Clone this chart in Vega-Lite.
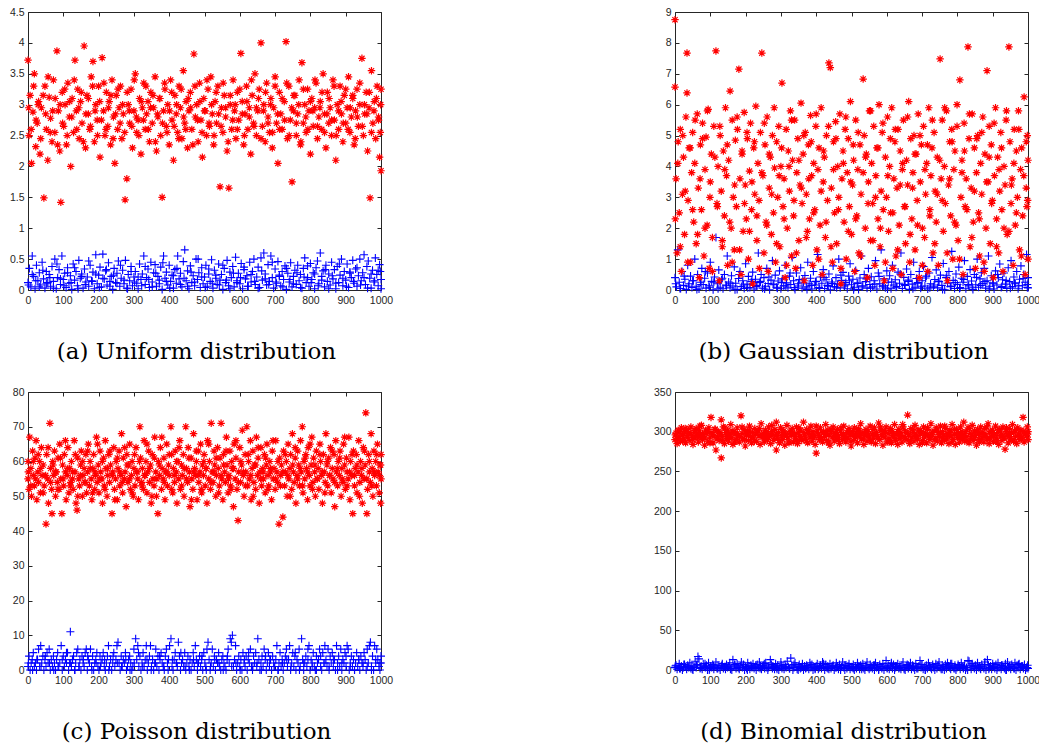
{
"$schema":"https://vega.github.io/schema/vega-lite/v6.json",
"padding":{"left":9,"top":7,"right":0,"bottom":0},
"background":"#ffffff",
"config":{
 "view":{"stroke":null},
 "axis":{"grid":false,"domainColor":"#262626","tickColor":"#262626","labelColor":"#262626","labelFont":"Liberation Sans","labelFontSize":10.5,"tickSize":-4,"domainWidth":1,"tickWidth":1,"title":null,"format":"d","labelFlush":false,"labelOverlap":false},
 "axisX":{"labelPadding":9},
 "axisY":{"labelPadding":8},
 "title":{"font":"DejaVu Serif","fontSize":23,"fontWeight":"normal","color":"#000000","orient":"bottom","anchor":"middle","dx":-8,"offset":35,"baseline":"top"},
 "point":{"filled":false,"opacity":1}
},
"datasets":{
"ar":[{"x":0,"y":3.72},{"x":3,"y":2.5},{"x":6,"y":3.15},{"x":10,"y":2.05},{"x":14,"y":2.88},{"x":18,"y":3.5},{"x":22,"y":2.32},{"x":26,"y":2.7},{"x":30,"y":3.05},{"x":34,"y":2.2},{"x":38,"y":2.95},{"x":45,"y":1.49},{"x":48,"y":3.3},{"x":52,"y":2.6},{"x":56,"y":2.1},{"x":60,"y":3.12},{"x":64,"y":2.78},{"x":68,"y":2.4},{"x":72,"y":3.4},{"x":76,"y":2.55},{"x":82,"y":3.87},{"x":86,"y":2.9},{"x":90,"y":2.25},{"x":93,"y":1.42},{"x":97,"y":3.2},{"x":101,"y":2.65},{"x":105,"y":3.0},{"x":109,"y":2.35},{"x":113,"y":3.35},{"x":117,"y":2.8},{"x":121,"y":2.0},{"x":125,"y":3.1},{"x":129,"y":2.55},{"x":133,"y":3.72},{"x":137,"y":2.9},{"x":141,"y":3.25},{"x":145,"y":2.45},{"x":149,"y":3.05},{"x":153,"y":2.7},{"x":159,"y":3.95},{"x":163,"y":2.3},{"x":167,"y":3.15},{"x":171,"y":2.85},{"x":175,"y":2.6},{"x":179,"y":3.45},{"x":184,"y":3.7},{"x":188,"y":2.4},{"x":192,"y":3.0},{"x":196,"y":2.75},{"x":200,"y":3.3},{"x":204,"y":2.15},{"x":210,"y":3.76},{"x":214,"y":2.9},{"x":218,"y":2.5},{"x":222,"y":3.2},{"x":226,"y":2.65},{"x":230,"y":3.05},{"x":234,"y":2.35},{"x":238,"y":3.4},{"x":242,"y":2.8},{"x":246,"y":2.05},{"x":250,"y":3.15},{"x":254,"y":2.6},{"x":258,"y":2.95},{"x":262,"y":3.3},{"x":266,"y":2.45},{"x":270,"y":2.85},{"x":275,"y":1.46},{"x":280,"y":1.8},{"x":284,"y":3.0},{"x":288,"y":2.7},{"x":292,"y":3.25},{"x":296,"y":2.3},{"x":300,"y":2.9},{"x":304,"y":3.5},{"x":308,"y":2.55},{"x":312,"y":2.75},{"x":316,"y":3.1},{"x":320,"y":2.2},{"x":324,"y":2.95},{"x":328,"y":3.35},{"x":332,"y":2.6},{"x":336,"y":2.85},{"x":340,"y":3.05},{"x":344,"y":2.4},{"x":348,"y":3.2},{"x":352,"y":2.7},{"x":356,"y":2.95},{"x":360,"y":3.45},{"x":364,"y":2.25},{"x":368,"y":2.8},{"x":372,"y":3.1},{"x":376,"y":2.5},{"x":380,"y":1.5},{"x":384,"y":2.9},{"x":388,"y":3.25},{"x":392,"y":2.65},{"x":396,"y":3.0},{"x":400,"y":2.35},{"x":404,"y":3.4},{"x":408,"y":2.75},{"x":412,"y":2.1},{"x":416,"y":3.15},{"x":420,"y":2.85},{"x":424,"y":2.55},{"x":428,"y":3.3},{"x":432,"y":2.95},{"x":436,"y":2.45},{"x":440,"y":3.55},{"x":444,"y":2.7},{"x":448,"y":3.05},{"x":452,"y":2.3},{"x":456,"y":2.9},{"x":460,"y":3.2},{"x":464,"y":2.6},{"x":470,"y":3.82},{"x":474,"y":2.8},{"x":478,"y":3.0},{"x":482,"y":2.4},{"x":486,"y":3.35},{"x":490,"y":2.75},{"x":494,"y":2.15},{"x":498,"y":3.1},{"x":502,"y":2.9},{"x":506,"y":2.5},{"x":510,"y":3.25},{"x":514,"y":2.65},{"x":518,"y":3.45},{"x":522,"y":2.85},{"x":526,"y":2.35},{"x":530,"y":3.05},{"x":534,"y":2.7},{"x":538,"y":3.3},{"x":544,"y":1.67},{"x":548,"y":2.95},{"x":552,"y":2.55},{"x":556,"y":3.15},{"x":560,"y":2.8},{"x":564,"y":2.25},{"x":569,"y":1.65},{"x":573,"y":3.0},{"x":577,"y":2.6},{"x":581,"y":3.4},{"x":585,"y":2.9},{"x":589,"y":2.45},{"x":593,"y":3.2},{"x":597,"y":2.75},{"x":603,"y":3.83},{"x":607,"y":3.05},{"x":611,"y":2.35},{"x":615,"y":2.85},{"x":619,"y":3.3},{"x":623,"y":2.6},{"x":627,"y":2.95},{"x":631,"y":2.2},{"x":635,"y":3.15},{"x":639,"y":2.7},{"x":643,"y":3.5},{"x":647,"y":2.5},{"x":651,"y":2.9},{"x":655,"y":3.25},{"x":660,"y":4.0},{"x":664,"y":2.65},{"x":668,"y":3.0},{"x":672,"y":2.4},{"x":676,"y":3.35},{"x":680,"y":2.8},{"x":684,"y":2.55},{"x":688,"y":3.1},{"x":692,"y":2.3},{"x":696,"y":2.95},{"x":700,"y":3.45},{"x":704,"y":2.7},{"x":708,"y":2.05},{"x":712,"y":3.2},{"x":716,"y":2.85},{"x":720,"y":2.6},{"x":726,"y":3.05},{"x":731,"y":4.02},{"x":735,"y":2.45},{"x":739,"y":3.3},{"x":743,"y":2.75},{"x":748,"y":1.75},{"x":752,"y":2.9},{"x":756,"y":3.15},{"x":760,"y":2.5},{"x":764,"y":2.85},{"x":768,"y":3.4},{"x":772,"y":2.35},{"x":776,"y":3.68},{"x":780,"y":2.7},{"x":784,"y":3.0},{"x":788,"y":2.55},{"x":792,"y":3.25},{"x":796,"y":2.9},{"x":800,"y":2.2},{"x":804,"y":3.1},{"x":808,"y":2.65},{"x":812,"y":2.95},{"x":816,"y":3.35},{"x":820,"y":2.45},{"x":824,"y":2.8},{"x":828,"y":3.05},{"x":832,"y":2.6},{"x":836,"y":3.5},{"x":840,"y":2.85},{"x":844,"y":2.3},{"x":848,"y":3.2},{"x":852,"y":2.7},{"x":856,"y":2.95},{"x":860,"y":2.5},{"x":864,"y":3.4},{"x":868,"y":2.75},{"x":872,"y":2.1},{"x":876,"y":3.0},{"x":880,"y":2.6},{"x":884,"y":3.3},{"x":888,"y":2.85},{"x":892,"y":2.4},{"x":896,"y":3.15},{"x":900,"y":2.7},{"x":904,"y":2.95},{"x":908,"y":3.45},{"x":912,"y":2.55},{"x":916,"y":2.8},{"x":920,"y":3.1},{"x":924,"y":2.35},{"x":928,"y":2.9},{"x":932,"y":3.25},{"x":936,"y":2.65},{"x":940,"y":3.0},{"x":946,"y":3.75},{"x":950,"y":2.5},{"x":954,"y":2.85},{"x":958,"y":3.2},{"x":962,"y":2.25},{"x":966,"y":2.95},{"x":969,"y":1.49},{"x":973,"y":3.55},{"x":977,"y":2.7},{"x":981,"y":3.05},{"x":985,"y":2.45},{"x":989,"y":3.3},{"x":993,"y":2.8},{"x":996,"y":2.15},{"x":1000,"y":1.93},{"x":1000,"y":3.25},{"x":998,"y":2.55},
{"x":2,"y":2.95},{"x":9,"y":2.6},{"x":16,"y":3.3},{"x":23,"y":2.75},{"x":29,"y":3.0},{"x":36,"y":2.45},{"x":43,"y":3.15},{"x":50,"y":2.85},{"x":57,"y":3.45},{"x":63,"y":2.55},{"x":70,"y":2.9},{"x":77,"y":3.1},{"x":84,"y":2.35},{"x":91,"y":3.0},{"x":98,"y":2.7},{"x":104,"y":3.25},{"x":111,"y":2.5},{"x":118,"y":3.05},{"x":124,"y":2.8},{"x":131,"y":3.4},{"x":138,"y":2.6},{"x":144,"y":2.95},{"x":151,"y":3.2},{"x":157,"y":2.4},{"x":164,"y":2.85},{"x":171,"y":3.1},{"x":177,"y":2.65},{"x":183,"y":3.3},{"x":190,"y":2.9},{"x":197,"y":2.5},{"x":203,"y":3.05},{"x":208,"y":2.75},{"x":215,"y":3.35},{"x":221,"y":2.6},{"x":228,"y":2.95},{"x":235,"y":3.15},{"x":241,"y":2.45},{"x":248,"y":2.85},{"x":255,"y":3.25},{"x":261,"y":2.7},{"x":268,"y":3.0},{"x":274,"y":2.55},{"x":281,"y":3.2},{"x":287,"y":2.9},{"x":294,"y":2.65},{"x":301,"y":3.4},{"x":307,"y":2.8},{"x":314,"y":2.5},{"x":321,"y":3.05},{"x":327,"y":2.75},{"x":334,"y":3.3},{"x":341,"y":2.6},{"x":347,"y":2.95},{"x":354,"y":3.15},{"x":361,"y":2.4},{"x":367,"y":2.85},{"x":374,"y":3.1},{"x":381,"y":2.7},{"x":387,"y":3.35},{"x":394,"y":2.55},{"x":401,"y":2.9},{"x":407,"y":3.2},{"x":414,"y":2.65},{"x":421,"y":3.0},{"x":427,"y":2.45},{"x":434,"y":3.25},{"x":441,"y":2.8},{"x":447,"y":2.6},{"x":454,"y":3.1},{"x":461,"y":2.95},{"x":467,"y":2.35},{"x":473,"y":3.3},{"x":480,"y":2.75},{"x":487,"y":3.05},{"x":493,"y":2.55},{"x":500,"y":2.9},{"x":507,"y":3.4},{"x":513,"y":2.7},{"x":520,"y":3.0},{"x":527,"y":2.5},{"x":533,"y":3.2},{"x":540,"y":2.85},{"x":547,"y":2.65},{"x":553,"y":3.35},{"x":560,"y":2.95},{"x":567,"y":2.4},{"x":573,"y":3.15},{"x":580,"y":2.75},{"x":587,"y":3.0},{"x":593,"y":2.6},{"x":600,"y":3.25},{"x":607,"y":2.85},{"x":613,"y":2.5},{"x":620,"y":3.05},{"x":627,"y":2.8},{"x":633,"y":3.4},{"x":640,"y":2.65},{"x":647,"y":2.95},{"x":653,"y":3.1},{"x":660,"y":2.45},{"x":667,"y":2.9},{"x":673,"y":3.2},{"x":680,"y":2.7},{"x":687,"y":3.0},{"x":693,"y":2.55},{"x":700,"y":3.3},{"x":707,"y":2.85},{"x":713,"y":2.6},{"x":720,"y":3.1},{"x":727,"y":2.75},{"x":733,"y":3.35},{"x":740,"y":2.5},{"x":747,"y":2.95},{"x":753,"y":3.15},{"x":760,"y":2.7},{"x":767,"y":3.0},{"x":773,"y":2.4},{"x":780,"y":3.25},{"x":787,"y":2.8},{"x":793,"y":2.6},{"x":800,"y":3.05},{"x":807,"y":2.9},{"x":813,"y":3.4},{"x":820,"y":2.65},{"x":827,"y":2.95},{"x":833,"y":3.2},{"x":840,"y":2.55},{"x":847,"y":2.85},{"x":853,"y":3.1},{"x":860,"y":2.75},{"x":867,"y":3.3},{"x":873,"y":2.5},{"x":880,"y":2.9},{"x":887,"y":3.05},{"x":893,"y":2.7},{"x":900,"y":3.25},{"x":907,"y":2.6},{"x":913,"y":2.95},{"x":920,"y":3.15},{"x":927,"y":2.45},{"x":933,"y":2.8},{"x":940,"y":3.35},{"x":947,"y":2.65},{"x":953,"y":3.0},{"x":960,"y":2.85},{"x":967,"y":3.2},{"x":973,"y":2.55},{"x":980,"y":2.9},{"x":987,"y":3.1},{"x":993,"y":2.75},{"x":999,"y":3.0}],
"ab":[{"x":0,"y":0.12},{"x":4,"y":0.35},{"x":8,"y":0.05},{"x":12,"y":0.55},{"x":16,"y":0.22},{"x":20,"y":0.02},{"x":24,"y":0.4},{"x":28,"y":0.15},{"x":32,"y":0.28},{"x":36,"y":0.08},{"x":40,"y":0.45},{"x":44,"y":0.18},{"x":48,"y":0.03},{"x":52,"y":0.3},{"x":56,"y":0.12},{"x":60,"y":0.25},{"x":64,"y":0.06},{"x":68,"y":0.38},{"x":72,"y":0.14},{"x":76,"y":0.5},{"x":80,"y":0.02},{"x":84,"y":0.2},{"x":88,"y":0.33},{"x":92,"y":0.09},{"x":96,"y":0.55},{"x":100,"y":0.17},{"x":104,"y":0.27},{"x":108,"y":0.04},{"x":112,"y":0.36},{"x":116,"y":0.11},{"x":120,"y":0.23},{"x":124,"y":0.01},{"x":128,"y":0.42},{"x":132,"y":0.16},{"x":136,"y":0.3},{"x":140,"y":0.07},{"x":144,"y":0.48},{"x":148,"y":0.19},{"x":152,"y":0.26},{"x":156,"y":0.03},{"x":160,"y":0.34},{"x":164,"y":0.13},{"x":168,"y":0.21},{"x":172,"y":0.06},{"x":176,"y":0.4},{"x":180,"y":0.15},{"x":184,"y":0.29},{"x":188,"y":0.02},{"x":192,"y":0.57},{"x":196,"y":0.1},{"x":200,"y":0.24},{"x":204,"y":0.37},{"x":208,"y":0.05},{"x":212,"y":0.58},{"x":216,"y":0.18},{"x":220,"y":0.31},{"x":224,"y":0.08},{"x":228,"y":0.44},{"x":232,"y":0.14},{"x":236,"y":0.22},{"x":240,"y":0.01},{"x":244,"y":0.35},{"x":248,"y":0.12},{"x":252,"y":0.27},{"x":256,"y":0.47},{"x":260,"y":0.06},{"x":264,"y":0.19},{"x":268,"y":0.32},{"x":272,"y":0.1},{"x":276,"y":0.48},{"x":280,"y":0.03},{"x":284,"y":0.25},{"x":288,"y":0.15},{"x":292,"y":0.38},{"x":296,"y":0.07},{"x":300,"y":0.21},{"x":304,"y":0.3},{"x":308,"y":0.11},{"x":312,"y":0.02},{"x":316,"y":0.42},{"x":320,"y":0.17},{"x":324,"y":0.26},{"x":328,"y":0.55},{"x":332,"y":0.09},{"x":336,"y":0.2},{"x":340,"y":0.34},{"x":344,"y":0.04},{"x":348,"y":0.45},{"x":352,"y":0.13},{"x":356,"y":0.28},{"x":360,"y":0.41},{"x":364,"y":0.06},{"x":368,"y":0.22},{"x":372,"y":0.16},{"x":376,"y":0.37},{"x":380,"y":0.01},{"x":384,"y":0.55},{"x":388,"y":0.19},{"x":392,"y":0.29},{"x":396,"y":0.08},{"x":400,"y":0.4},{"x":404,"y":0.14},{"x":408,"y":0.24},{"x":412,"y":0.03},{"x":416,"y":0.33},{"x":420,"y":0.11},{"x":424,"y":0.55},{"x":428,"y":0.18},{"x":432,"y":0.27},{"x":436,"y":0.05},{"x":440,"y":0.46},{"x":444,"y":0.65},{"x":448,"y":0.15},{"x":452,"y":0.31},{"x":456,"y":0.02},{"x":460,"y":0.39},{"x":464,"y":0.12},{"x":468,"y":0.23},{"x":472,"y":0.07},{"x":476,"y":0.5},{"x":480,"y":0.17},{"x":484,"y":0.28},{"x":488,"y":0.04},{"x":492,"y":0.36},{"x":496,"y":0.1},{"x":500,"y":0.21},{"x":504,"y":0.4},{"x":508,"y":0.06},{"x":512,"y":0.26},{"x":516,"y":0.14},{"x":520,"y":0.49},{"x":524,"y":0.03},{"x":528,"y":0.32},{"x":532,"y":0.19},{"x":536,"y":0.09},{"x":540,"y":0.42},{"x":544,"y":0.16},{"x":548,"y":0.25},{"x":552,"y":0.01},{"x":556,"y":0.35},{"x":560,"y":0.12},{"x":564,"y":0.48},{"x":568,"y":0.07},{"x":572,"y":0.29},{"x":576,"y":0.2},{"x":580,"y":0.38},{"x":584,"y":0.05},{"x":588,"y":0.53},{"x":592,"y":0.15},{"x":596,"y":0.27},{"x":600,"y":0.1},{"x":604,"y":0.43},{"x":608,"y":0.02},{"x":612,"y":0.33},{"x":616,"y":0.18},{"x":620,"y":0.23},{"x":624,"y":0.06},{"x":628,"y":0.45},{"x":632,"y":0.13},{"x":636,"y":0.3},{"x":640,"y":0.5},{"x":644,"y":0.09},{"x":648,"y":0.21},{"x":652,"y":0.37},{"x":656,"y":0.04},{"x":660,"y":0.52},{"x":664,"y":0.16},{"x":668,"y":0.6},{"x":672,"y":0.26},{"x":676,"y":0.08},{"x":680,"y":0.41},{"x":684,"y":0.14},{"x":688,"y":0.55},{"x":692,"y":0.2},{"x":696,"y":0.03},{"x":700,"y":0.34},{"x":704,"y":0.11},{"x":708,"y":0.46},{"x":712,"y":0.24},{"x":716,"y":0.07},{"x":720,"y":0.3},{"x":724,"y":0.17},{"x":728,"y":0.39},{"x":732,"y":0.01},{"x":736,"y":0.27},{"x":740,"y":0.13},{"x":744,"y":0.44},{"x":748,"y":0.05},{"x":752,"y":0.22},{"x":756,"y":0.32},{"x":760,"y":0.09},{"x":764,"y":0.4},{"x":768,"y":0.15},{"x":772,"y":0.25},{"x":776,"y":0.03},{"x":780,"y":0.35},{"x":784,"y":0.52},{"x":788,"y":0.12},{"x":792,"y":0.2},{"x":796,"y":0.06},{"x":800,"y":0.43},{"x":804,"y":0.17},{"x":808,"y":0.28},{"x":812,"y":0.02},{"x":816,"y":0.36},{"x":820,"y":0.47},{"x":824,"y":0.1},{"x":828,"y":0.6},{"x":832,"y":0.22},{"x":836,"y":0.31},{"x":840,"y":0.05},{"x":844,"y":0.4},{"x":848,"y":0.14},{"x":852,"y":0.26},{"x":856,"y":0.08},{"x":860,"y":0.45},{"x":864,"y":0.18},{"x":868,"y":0.33},{"x":872,"y":0.02},{"x":876,"y":0.38},{"x":880,"y":0.12},{"x":884,"y":0.24},{"x":888,"y":0.5},{"x":892,"y":0.07},{"x":896,"y":0.3},{"x":900,"y":0.16},{"x":904,"y":0.42},{"x":908,"y":0.04},{"x":912,"y":0.27},{"x":916,"y":0.2},{"x":920,"y":0.48},{"x":924,"y":0.11},{"x":928,"y":0.34},{"x":932,"y":0.06},{"x":936,"y":0.23},{"x":940,"y":0.5},{"x":944,"y":0.15},{"x":948,"y":0.28},{"x":952,"y":0.57},{"x":956,"y":0.09},{"x":960,"y":0.38},{"x":964,"y":0.47},{"x":968,"y":0.19},{"x":972,"y":0.03},{"x":976,"y":0.32},{"x":980,"y":0.13},{"x":984,"y":0.52},{"x":988,"y":0.25},{"x":992,"y":0.07},{"x":996,"y":0.41},{"x":1000,"y":0.17},{"x":1000,"y":0.02},{"x":998,"y":0.3},
{"x":2,"y":0.08},{"x":12,"y":0.25},{"x":22,"y":0.15},{"x":32,"y":0.05},{"x":42,"y":0.32},{"x":52,"y":0.1},{"x":62,"y":0.2},{"x":72,"y":0.03},{"x":82,"y":0.42},{"x":92,"y":0.18},{"x":102,"y":0.07},{"x":112,"y":0.28},{"x":122,"y":0.12},{"x":132,"y":0.36},{"x":142,"y":0.02},{"x":152,"y":0.22},{"x":162,"y":0.09},{"x":172,"y":0.47},{"x":182,"y":0.14},{"x":192,"y":0.26},{"x":202,"y":0.04},{"x":212,"y":0.19},{"x":222,"y":0.33},{"x":232,"y":0.06},{"x":242,"y":0.24},{"x":252,"y":0.11},{"x":262,"y":0.4},{"x":272,"y":0.16},{"x":282,"y":0.02},{"x":292,"y":0.3},{"x":302,"y":0.13},{"x":312,"y":0.21},{"x":322,"y":0.07},{"x":332,"y":0.38},{"x":342,"y":0.17},{"x":352,"y":0.05},{"x":362,"y":0.27},{"x":372,"y":0.1},{"x":382,"y":0.44},{"x":392,"y":0.14},{"x":402,"y":0.03},{"x":412,"y":0.23},{"x":422,"y":0.35},{"x":432,"y":0.09},{"x":442,"y":0.19},{"x":452,"y":0.06},{"x":462,"y":0.29},{"x":472,"y":0.13},{"x":482,"y":0.5},{"x":492,"y":0.21},{"x":502,"y":0.04},{"x":512,"y":0.34},{"x":522,"y":0.11},{"x":532,"y":0.24},{"x":542,"y":0.08},{"x":552,"y":0.4},{"x":562,"y":0.16},{"x":572,"y":0.02},{"x":582,"y":0.27},{"x":592,"y":0.12},{"x":602,"y":0.2},{"x":612,"y":0.37},{"x":622,"y":0.06},{"x":632,"y":0.25},{"x":642,"y":0.14},{"x":652,"y":0.03},{"x":662,"y":0.31},{"x":672,"y":0.18},{"x":682,"y":0.09},{"x":692,"y":0.45},{"x":702,"y":0.13},{"x":712,"y":0.22},{"x":722,"y":0.05},{"x":732,"y":0.35},{"x":742,"y":0.17},{"x":752,"y":0.1},{"x":762,"y":0.28},{"x":772,"y":0.04},{"x":782,"y":0.21},{"x":792,"y":0.39},{"x":802,"y":0.12},{"x":812,"y":0.26},{"x":822,"y":0.07},{"x":832,"y":0.16},{"x":842,"y":0.33},{"x":852,"y":0.02},{"x":862,"y":0.23},{"x":872,"y":0.11},{"x":882,"y":0.42},{"x":892,"y":0.19},{"x":902,"y":0.06},{"x":912,"y":0.29},{"x":922,"y":0.14},{"x":932,"y":0.36},{"x":942,"y":0.08},{"x":952,"y":0.2},{"x":962,"y":0.03},{"x":972,"y":0.26},{"x":982,"y":0.15},{"x":992,"y":0.32}],
"br":[{"x":0,"y":8.75},{"x":0,"y":6.57},{"x":3,"y":3.6},{"x":6,"y":1.2},{"x":9,"y":4.8},{"x":12,"y":2.5},{"x":15,"y":5.2},{"x":18,"y":0.6},{"x":21,"y":3.1},{"x":24,"y":4.3},{"x":27,"y":1.8},{"x":31,"y":5.6},{"x":34,"y":7.67},{"x":34,"y":6.38},{"x":37,"y":2.9},{"x":40,"y":4.6},{"x":44,"y":0.9},{"x":47,"y":3.8},{"x":50,"y":5.1},{"x":53,"y":2.2},{"x":56,"y":4.1},{"x":60,"y":1.5},{"x":63,"y":5.7},{"x":66,"y":3.3},{"x":69,"y":0.4},{"x":72,"y":4.7},{"x":75,"y":2.6},{"x":78,"y":5.4},{"x":82,"y":1.1},{"x":85,"y":3.9},{"x":88,"y":4.95},{"x":91,"y":2.1},{"x":94,"y":5.85},{"x":97,"y":0.7},{"x":100,"y":3.5},{"x":103,"y":4.4},{"x":106,"y":1.7},{"x":110,"y":5.3},{"x":116,"y":7.74},{"x":119,"y":2.8},{"x":122,"y":4.0},{"x":125,"y":0.3},{"x":128,"y":5.0},{"x":131,"y":3.2},{"x":134,"y":1.4},{"x":137,"y":4.5},{"x":140,"y":2.4},{"x":143,"y":5.9},{"x":146,"y":3.7},{"x":149,"y":0.8},{"x":152,"y":4.2},{"x":156,"y":6.44},{"x":159,"y":2.0},{"x":162,"y":5.5},{"x":165,"y":3.0},{"x":168,"y":1.3},{"x":171,"y":4.85},{"x":174,"y":2.7},{"x":177,"y":5.2},{"x":181,"y":7.15},{"x":184,"y":3.6},{"x":187,"y":0.5},{"x":190,"y":4.4},{"x":193,"y":1.9},{"x":196,"y":5.75},{"x":199,"y":3.4},{"x":202,"y":2.3},{"x":205,"y":4.9},{"x":208,"y":1.0},{"x":211,"y":3.85},{"x":214,"y":5.4},{"x":217,"y":2.6},{"x":220,"y":0.2},{"x":223,"y":4.6},{"x":226,"y":3.1},{"x":229,"y":5.95},{"x":232,"y":1.6},{"x":235,"y":4.1},{"x":238,"y":2.9},{"x":242,"y":5.1},{"x":246,"y":7.67},{"x":249,"y":3.7},{"x":252,"y":1.2},{"x":255,"y":4.7},{"x":258,"y":2.2},{"x":261,"y":5.6},{"x":264,"y":0.6},{"x":267,"y":3.3},{"x":270,"y":4.3},{"x":273,"y":1.8},{"x":276,"y":5.0},{"x":279,"y":2.5},{"x":282,"y":3.95},{"x":285,"y":0.9},{"x":288,"y":4.8},{"x":291,"y":3.0},{"x":294,"y":5.3},{"x":297,"y":1.4},{"x":300,"y":4.0},{"x":303,"y":6.7},{"x":306,"y":2.7},{"x":309,"y":3.6},{"x":312,"y":0.4},{"x":315,"y":5.2},{"x":318,"y":2.0},{"x":321,"y":4.5},{"x":324,"y":3.2},{"x":327,"y":5.8},{"x":330,"y":1.1},{"x":333,"y":4.2},{"x":336,"y":2.4},{"x":339,"y":5.5},{"x":342,"y":0.7},{"x":345,"y":3.8},{"x":348,"y":4.9},{"x":351,"y":1.6},{"x":354,"y":3.4},{"x":357,"y":6.05},{"x":360,"y":2.8},{"x":363,"y":4.4},{"x":366,"y":0.3},{"x":369,"y":5.1},{"x":372,"y":3.1},{"x":375,"y":1.9},{"x":378,"y":4.7},{"x":381,"y":2.3},{"x":384,"y":5.65},{"x":387,"y":3.7},{"x":390,"y":0.8},{"x":393,"y":4.1},{"x":396,"y":2.6},{"x":399,"y":5.3},{"x":402,"y":1.3},{"x":405,"y":3.9},{"x":408,"y":4.6},{"x":411,"y":2.1},{"x":414,"y":5.9},{"x":417,"y":0.5},{"x":420,"y":3.5},{"x":423,"y":4.3},{"x":426,"y":1.7},{"x":429,"y":5.0},{"x":432,"y":2.9},{"x":436,"y":7.35},{"x":440,"y":7.2},{"x":443,"y":3.3},{"x":446,"y":0.9},{"x":449,"y":4.8},{"x":452,"y":2.5},{"x":455,"y":5.45},{"x":458,"y":1.5},{"x":461,"y":4.0},{"x":464,"y":3.0},{"x":467,"y":5.7},{"x":470,"y":0.2},{"x":473,"y":3.6},{"x":476,"y":4.5},{"x":479,"y":2.2},{"x":482,"y":5.2},{"x":485,"y":1.0},{"x":488,"y":3.8},{"x":491,"y":4.9},{"x":494,"y":2.7},{"x":497,"y":6.1},{"x":500,"y":1.8},{"x":503,"y":3.4},{"x":506,"y":4.2},{"x":509,"y":0.6},{"x":512,"y":5.5},{"x":515,"y":2.4},{"x":518,"y":3.9},{"x":521,"y":1.2},{"x":524,"y":4.7},{"x":527,"y":3.1},{"x":533,"y":6.83},{"x":536,"y":5.0},{"x":539,"y":2.0},{"x":542,"y":4.4},{"x":545,"y":0.4},{"x":548,"y":3.5},{"x":551,"y":5.8},{"x":554,"y":1.6},{"x":557,"y":4.1},{"x":560,"y":2.8},{"x":563,"y":5.3},{"x":566,"y":0.8},{"x":569,"y":3.7},{"x":572,"y":4.6},{"x":575,"y":2.3},{"x":578,"y":6.0},{"x":581,"y":1.4},{"x":584,"y":3.2},{"x":587,"y":5.1},{"x":590,"y":2.6},{"x":593,"y":0.3},{"x":596,"y":4.3},{"x":599,"y":3.0},{"x":602,"y":5.6},{"x":605,"y":1.9},{"x":608,"y":4.0},{"x":611,"y":2.5},{"x":614,"y":5.9},{"x":617,"y":0.7},{"x":620,"y":3.6},{"x":623,"y":4.8},{"x":626,"y":1.1},{"x":629,"y":3.3},{"x":632,"y":5.2},{"x":635,"y":2.1},{"x":638,"y":4.5},{"x":641,"y":0.5},{"x":644,"y":3.9},{"x":647,"y":5.5},{"x":650,"y":2.7},{"x":653,"y":1.5},{"x":656,"y":4.2},{"x":659,"y":3.4},{"x":662,"y":6.1},{"x":665,"y":0.9},{"x":668,"y":4.9},{"x":671,"y":2.3},{"x":674,"y":3.8},{"x":677,"y":5.0},{"x":680,"y":1.3},{"x":683,"y":4.4},{"x":686,"y":2.9},{"x":689,"y":5.7},{"x":692,"y":0.4},{"x":695,"y":3.5},{"x":698,"y":4.7},{"x":701,"y":2.0},{"x":704,"y":5.3},{"x":707,"y":1.7},{"x":710,"y":3.1},{"x":713,"y":4.1},{"x":716,"y":0.6},{"x":719,"y":5.9},{"x":722,"y":2.6},{"x":725,"y":3.7},{"x":728,"y":4.6},{"x":731,"y":1.2},{"x":734,"y":5.1},{"x":737,"y":3.2},{"x":740,"y":2.2},{"x":743,"y":4.3},{"x":746,"y":0.8},{"x":751,"y":7.48},{"x":754,"y":3.6},{"x":757,"y":5.5},{"x":760,"y":1.9},{"x":763,"y":4.0},{"x":766,"y":2.8},{"x":769,"y":5.8},{"x":772,"y":0.3},{"x":775,"y":3.4},{"x":778,"y":4.8},{"x":781,"y":2.4},{"x":784,"y":5.2},{"x":787,"y":1.0},{"x":790,"y":3.9},{"x":793,"y":4.5},{"x":796,"y":2.1},{"x":799,"y":6.0},{"x":802,"y":1.6},{"x":807,"y":6.8},{"x":810,"y":3.0},{"x":813,"y":4.2},{"x":816,"y":0.5},{"x":819,"y":5.4},{"x":822,"y":2.7},{"x":825,"y":3.6},{"x":830,"y":7.87},{"x":833,"y":4.9},{"x":836,"y":1.4},{"x":839,"y":3.3},{"x":842,"y":5.7},{"x":845,"y":2.2},{"x":848,"y":4.6},{"x":851,"y":0.7},{"x":854,"y":3.8},{"x":857,"y":5.0},{"x":860,"y":2.5},{"x":863,"y":1.1},{"x":866,"y":4.1},{"x":869,"y":3.1},{"x":872,"y":5.6},{"x":875,"y":0.9},{"x":878,"y":4.4},{"x":881,"y":2.0},{"x":884,"y":7.1},{"x":887,"y":3.5},{"x":890,"y":5.3},{"x":893,"y":1.5},{"x":896,"y":4.7},{"x":899,"y":2.9},{"x":902,"y":0.4},{"x":905,"y":3.7},{"x":908,"y":5.9},{"x":911,"y":2.3},{"x":914,"y":4.3},{"x":917,"y":1.2},{"x":920,"y":3.2},{"x":923,"y":5.1},{"x":926,"y":2.6},{"x":929,"y":0.6},{"x":932,"y":4.0},{"x":935,"y":3.4},{"x":938,"y":5.5},{"x":941,"y":1.8},{"x":946,"y":7.87},{"x":949,"y":4.8},{"x":952,"y":2.8},{"x":955,"y":3.6},{"x":958,"y":0.8},{"x":961,"y":5.2},{"x":964,"y":2.1},{"x":967,"y":4.5},{"x":970,"y":3.0},{"x":973,"y":5.8},{"x":976,"y":1.3},{"x":979,"y":3.9},{"x":982,"y":4.6},{"x":985,"y":2.4},{"x":989,"y":6.25},{"x":992,"y":0.5},{"x":995,"y":3.3},{"x":998,"y":5.0},{"x":1000,"y":1.0},{"x":1000,"y":4.2},{"x":997,"y":2.7},
{"x":1,"y":2.3},{"x":8,"y":4.1},{"x":15,"y":1.4},{"x":22,"y":5.0},{"x":29,"y":3.2},{"x":36,"y":0.9},{"x":43,"y":4.6},{"x":50,"y":2.6},{"x":57,"y":5.5},{"x":64,"y":1.8},{"x":71,"y":3.6},{"x":78,"y":4.9},{"x":85,"y":2.0},{"x":92,"y":5.8},{"x":99,"y":3.0},{"x":106,"y":0.6},{"x":113,"y":4.3},{"x":120,"y":2.7},{"x":127,"y":5.3},{"x":134,"y":1.6},{"x":141,"y":3.9},{"x":148,"y":4.7},{"x":155,"y":2.2},{"x":162,"y":0.9},{"x":169,"y":3.4},{"x":176,"y":5.6},{"x":183,"y":1.3},{"x":190,"y":4.5},{"x":197,"y":2.8},{"x":204,"y":5.1},{"x":211,"y":1.9},{"x":218,"y":3.5},{"x":225,"y":4.8},{"x":232,"y":2.4},{"x":239,"y":0.7},{"x":246,"y":3.8},{"x":253,"y":5.4},{"x":260,"y":2.1},{"x":267,"y":4.4},{"x":274,"y":3.1},{"x":281,"y":5.9},{"x":288,"y":1.5},{"x":295,"y":3.7},{"x":302,"y":4.6},{"x":309,"y":2.3},{"x":316,"y":0.8},{"x":323,"y":4.0},{"x":330,"y":5.5},{"x":337,"y":2.9},{"x":344,"y":1.2},{"x":351,"y":4.2},{"x":358,"y":3.3},{"x":365,"y":5.0},{"x":372,"y":1.7},{"x":379,"y":3.6},{"x":386,"y":4.8},{"x":393,"y":2.5},{"x":400,"y":5.7},{"x":407,"y":1.0},{"x":414,"y":3.2},{"x":421,"y":4.5},{"x":428,"y":2.2},{"x":435,"y":5.3},{"x":442,"y":1.4},{"x":449,"y":3.9},{"x":456,"y":4.9},{"x":463,"y":2.6},{"x":470,"y":0.7},{"x":477,"y":4.1},{"x":484,"y":5.6},{"x":491,"y":1.9},{"x":498,"y":3.5},{"x":505,"y":4.7},{"x":512,"y":2.3},{"x":519,"y":5.1},{"x":526,"y":1.1},{"x":533,"y":3.8},{"x":540,"y":4.3},{"x":547,"y":2.8},{"x":554,"y":5.8},{"x":561,"y":1.6},{"x":568,"y":3.0},{"x":575,"y":4.6},{"x":582,"y":2.0},{"x":589,"y":5.4},{"x":596,"y":0.9},{"x":603,"y":3.7},{"x":610,"y":4.9},{"x":617,"y":2.5},{"x":624,"y":5.2},{"x":631,"y":1.3},{"x":638,"y":3.4},{"x":645,"y":4.1},{"x":652,"y":2.7},{"x":659,"y":5.6},{"x":666,"y":1.8},{"x":673,"y":3.3},{"x":680,"y":4.4},{"x":687,"y":2.1},{"x":694,"y":5.0},{"x":701,"y":0.8},{"x":708,"y":3.9},{"x":715,"y":4.7},{"x":722,"y":2.4},{"x":729,"y":5.5},{"x":736,"y":1.5},{"x":743,"y":3.1},{"x":750,"y":4.2},{"x":757,"y":2.9},{"x":764,"y":5.9},{"x":771,"y":1.2},{"x":778,"y":3.6},{"x":785,"y":4.8},{"x":792,"y":2.2},{"x":799,"y":5.3},{"x":806,"y":1.0},{"x":813,"y":3.8},{"x":820,"y":4.5},{"x":827,"y":2.6},{"x":834,"y":5.7},{"x":841,"y":1.7},{"x":848,"y":3.2},{"x":855,"y":4.9},{"x":862,"y":2.3},{"x":869,"y":5.1},{"x":876,"y":0.6},{"x":883,"y":3.5},{"x":890,"y":4.3},{"x":897,"y":2.8},{"x":904,"y":5.4},{"x":911,"y":1.4},{"x":918,"y":3.9},{"x":925,"y":4.6},{"x":932,"y":2.0},{"x":939,"y":5.8},{"x":946,"y":1.9},{"x":953,"y":3.4},{"x":960,"y":4.1},{"x":967,"y":2.5},{"x":974,"y":5.2},{"x":981,"y":1.1},{"x":988,"y":3.7},{"x":995,"y":4.8},{"x":999,"y":2.9}],
"bb":[{"x":0,"y":0.4},{"x":4,"y":0.1},{"x":8,"y":1.3},{"x":12,"y":0.25},{"x":16,"y":0.05},{"x":20,"y":0.6},{"x":24,"y":0.15},{"x":28,"y":0.35},{"x":32,"y":0.02},{"x":36,"y":0.8},{"x":40,"y":0.2},{"x":44,"y":0.45},{"x":48,"y":0.08},{"x":52,"y":0.3},{"x":56,"y":1.0},{"x":60,"y":0.12},{"x":64,"y":0.5},{"x":68,"y":0.03},{"x":72,"y":0.25},{"x":76,"y":0.7},{"x":80,"y":0.18},{"x":84,"y":0.38},{"x":88,"y":0.06},{"x":92,"y":0.55},{"x":96,"y":0.14},{"x":100,"y":0.9},{"x":104,"y":0.28},{"x":108,"y":0.01},{"x":112,"y":0.42},{"x":116,"y":1.7},{"x":120,"y":0.2},{"x":124,"y":0.65},{"x":128,"y":0.09},{"x":132,"y":0.33},{"x":136,"y":0.04},{"x":140,"y":0.5},{"x":144,"y":0.16},{"x":148,"y":1.1},{"x":152,"y":0.26},{"x":156,"y":0.07},{"x":160,"y":0.46},{"x":164,"y":0.13},{"x":168,"y":0.75},{"x":172,"y":0.22},{"x":176,"y":0.02},{"x":180,"y":0.37},{"x":184,"y":0.6},{"x":188,"y":0.11},{"x":192,"y":0.3},{"x":196,"y":0.05},{"x":200,"y":0.85},{"x":204,"y":0.19},{"x":208,"y":0.44},{"x":212,"y":0.08},{"x":216,"y":0.27},{"x":220,"y":0.58},{"x":224,"y":0.03},{"x":228,"y":0.35},{"x":232,"y":0.15},{"x":236,"y":1.2},{"x":240,"y":0.24},{"x":244,"y":0.5},{"x":248,"y":0.06},{"x":252,"y":0.4},{"x":256,"y":0.12},{"x":260,"y":0.7},{"x":264,"y":0.21},{"x":268,"y":0.01},{"x":272,"y":0.32},{"x":276,"y":0.95},{"x":280,"y":0.17},{"x":284,"y":0.48},{"x":288,"y":0.09},{"x":292,"y":0.29},{"x":296,"y":0.62},{"x":300,"y":0.04},{"x":304,"y":0.36},{"x":308,"y":0.14},{"x":312,"y":0.8},{"x":316,"y":0.23},{"x":320,"y":0.07},{"x":324,"y":0.45},{"x":328,"y":0.18},{"x":332,"y":1.05},{"x":336,"y":0.3},{"x":340,"y":0.02},{"x":344,"y":0.55},{"x":348,"y":0.13},{"x":352,"y":0.34},{"x":356,"y":0.72},{"x":360,"y":0.06},{"x":364,"y":0.25},{"x":368,"y":0.47},{"x":372,"y":0.1},{"x":376,"y":0.9},{"x":380,"y":0.2},{"x":384,"y":0.38},{"x":388,"y":0.03},{"x":392,"y":0.6},{"x":396,"y":0.16},{"x":400,"y":0.28},{"x":404,"y":1.15},{"x":408,"y":0.08},{"x":412,"y":0.42},{"x":416,"y":0.22},{"x":420,"y":0.66},{"x":424,"y":0.05},{"x":428,"y":0.33},{"x":432,"y":0.15},{"x":436,"y":0.52},{"x":440,"y":0.01},{"x":444,"y":0.26},{"x":448,"y":0.78},{"x":452,"y":0.11},{"x":456,"y":0.4},{"x":460,"y":0.19},{"x":464,"y":1.0},{"x":468,"y":0.07},{"x":472,"y":0.31},{"x":476,"y":0.57},{"x":480,"y":0.13},{"x":484,"y":0.24},{"x":488,"y":0.04},{"x":492,"y":0.45},{"x":496,"y":0.85},{"x":500,"y":0.17},{"x":504,"y":0.35},{"x":508,"y":0.09},{"x":512,"y":0.63},{"x":516,"y":0.21},{"x":520,"y":0.02},{"x":524,"y":0.39},{"x":528,"y":1.1},{"x":532,"y":0.14},{"x":536,"y":0.5},{"x":540,"y":0.27},{"x":544,"y":0.06},{"x":548,"y":0.7},{"x":552,"y":0.18},{"x":556,"y":0.43},{"x":560,"y":0.1},{"x":564,"y":0.3},{"x":568,"y":0.95},{"x":572,"y":0.03},{"x":576,"y":0.55},{"x":580,"y":0.2},{"x":584,"y":1.3},{"x":588,"y":0.12},{"x":592,"y":0.36},{"x":596,"y":0.07},{"x":600,"y":0.62},{"x":604,"y":0.25},{"x":608,"y":0.46},{"x":612,"y":0.04},{"x":616,"y":0.8},{"x":620,"y":0.16},{"x":624,"y":0.33},{"x":628,"y":0.11},{"x":632,"y":0.58},{"x":636,"y":0.22},{"x":640,"y":1.2},{"x":644,"y":0.05},{"x":648,"y":0.41},{"x":652,"y":0.15},{"x":656,"y":0.68},{"x":660,"y":0.28},{"x":664,"y":0.02},{"x":668,"y":0.5},{"x":672,"y":0.19},{"x":676,"y":0.9},{"x":680,"y":0.09},{"x":684,"y":0.37},{"x":688,"y":0.24},{"x":692,"y":0.6},{"x":696,"y":0.06},{"x":700,"y":0.3},{"x":704,"y":0.76},{"x":708,"y":0.13},{"x":712,"y":0.45},{"x":716,"y":0.03},{"x":720,"y":0.55},{"x":724,"y":0.2},{"x":728,"y":1.05},{"x":732,"y":0.1},{"x":736,"y":0.34},{"x":740,"y":0.65},{"x":744,"y":0.07},{"x":748,"y":0.27},{"x":752,"y":0.48},{"x":756,"y":0.15},{"x":760,"y":0.86},{"x":764,"y":0.01},{"x":768,"y":0.4},{"x":772,"y":0.22},{"x":776,"y":0.6},{"x":780,"y":0.11},{"x":784,"y":1.25},{"x":788,"y":0.31},{"x":792,"y":0.05},{"x":796,"y":0.52},{"x":800,"y":0.18},{"x":804,"y":0.74},{"x":808,"y":0.08},{"x":812,"y":0.38},{"x":816,"y":0.25},{"x":820,"y":0.95},{"x":824,"y":0.04},{"x":828,"y":0.44},{"x":832,"y":0.14},{"x":836,"y":0.66},{"x":840,"y":0.29},{"x":844,"y":0.02},{"x":848,"y":0.5},{"x":852,"y":0.17},{"x":856,"y":1.0},{"x":860,"y":0.09},{"x":864,"y":0.36},{"x":868,"y":0.56},{"x":872,"y":0.21},{"x":876,"y":0.7},{"x":880,"y":0.06},{"x":884,"y":0.3},{"x":888,"y":1.1},{"x":892,"y":0.12},{"x":896,"y":0.46},{"x":900,"y":0.23},{"x":904,"y":0.03},{"x":908,"y":0.62},{"x":912,"y":0.16},{"x":916,"y":0.4},{"x":920,"y":0.84},{"x":924,"y":0.08},{"x":928,"y":0.33},{"x":932,"y":0.55},{"x":936,"y":0.19},{"x":940,"y":0.05},{"x":944,"y":0.72},{"x":948,"y":0.27},{"x":952,"y":0.95},{"x":956,"y":0.11},{"x":960,"y":0.42},{"x":964,"y":0.2},{"x":968,"y":0.6},{"x":972,"y":0.04},{"x":976,"y":0.35},{"x":980,"y":0.78},{"x":984,"y":0.14},{"x":988,"y":0.5},{"x":992,"y":0.25},{"x":996,"y":1.15},{"x":1000,"y":0.07},{"x":1000,"y":0.4},{"x":998,"y":0.18},
{"x":2,"y":0.2},{"x":14,"y":0.05},{"x":26,"y":0.45},{"x":38,"y":0.12},{"x":50,"y":0.3},{"x":62,"y":0.02},{"x":74,"y":0.18},{"x":86,"y":0.6},{"x":98,"y":0.09},{"x":110,"y":0.25},{"x":122,"y":0.04},{"x":134,"y":0.38},{"x":146,"y":0.14},{"x":158,"y":0.22},{"x":170,"y":0.01},{"x":182,"y":0.5},{"x":194,"y":0.16},{"x":206,"y":0.07},{"x":218,"y":0.33},{"x":230,"y":0.11},{"x":242,"y":0.28},{"x":254,"y":0.03},{"x":266,"y":0.42},{"x":278,"y":0.19},{"x":290,"y":0.06},{"x":302,"y":0.24},{"x":314,"y":0.13},{"x":326,"y":0.55},{"x":338,"y":0.08},{"x":350,"y":0.2},{"x":362,"y":0.35},{"x":374,"y":0.02},{"x":386,"y":0.15},{"x":398,"y":0.27},{"x":410,"y":0.05},{"x":422,"y":0.4},{"x":434,"y":0.12},{"x":446,"y":0.21},{"x":458,"y":0.07},{"x":470,"y":0.48},{"x":482,"y":0.17},{"x":494,"y":0.3},{"x":506,"y":0.01},{"x":518,"y":0.23},{"x":530,"y":0.1},{"x":542,"y":0.36},{"x":554,"y":0.06},{"x":566,"y":0.19},{"x":578,"y":0.44},{"x":590,"y":0.14},{"x":602,"y":0.03},{"x":614,"y":0.26},{"x":626,"y":0.09},{"x":638,"y":0.52},{"x":650,"y":0.18},{"x":662,"y":0.32},{"x":674,"y":0.04},{"x":686,"y":0.22},{"x":698,"y":0.12},{"x":710,"y":0.39},{"x":722,"y":0.07},{"x":734,"y":0.16},{"x":746,"y":0.29},{"x":758,"y":0.02},{"x":770,"y":0.46},{"x":782,"y":0.13},{"x":794,"y":0.24},{"x":806,"y":0.05},{"x":818,"y":0.34},{"x":830,"y":0.18},{"x":842,"y":0.09},{"x":854,"y":0.41},{"x":866,"y":0.15},{"x":878,"y":0.27},{"x":890,"y":0.03},{"x":902,"y":0.2},{"x":914,"y":0.5},{"x":926,"y":0.11},{"x":938,"y":0.31},{"x":950,"y":0.06},{"x":962,"y":0.23},{"x":974,"y":0.14},{"x":986,"y":0.37},{"x":998,"y":0.08}],
"cr":[{"x":0,"y":55},{"x":0,"y":60},{"x":3,"y":52},{"x":5,"y":67},{"x":8,"y":58},{"x":10,"y":50},{"x":13,"y":63},{"x":15,"y":56},{"x":18,"y":53},{"x":20,"y":61},{"x":23,"y":66},{"x":25,"y":49},{"x":28,"y":57},{"x":30,"y":54},{"x":33,"y":60},{"x":35,"y":51},{"x":38,"y":64},{"x":40,"y":56},{"x":43,"y":59},{"x":46,"y":53},{"x":51,"y":42},{"x":53,"y":62},{"x":56,"y":55},{"x":58,"y":48},{"x":62,"y":71},{"x":64,"y":58},{"x":67,"y":52},{"x":68,"y":45},{"x":70,"y":60},{"x":73,"y":56},{"x":75,"y":63},{"x":78,"y":50},{"x":80,"y":57},{"x":83,"y":54},{"x":85,"y":61},{"x":88,"y":52},{"x":90,"y":65},{"x":93,"y":55},{"x":96,"y":45},{"x":98,"y":59},{"x":101,"y":53},{"x":103,"y":62},{"x":106,"y":57},{"x":108,"y":49},{"x":111,"y":56},{"x":113,"y":64},{"x":116,"y":51},{"x":118,"y":58},{"x":121,"y":54},{"x":123,"y":60},{"x":126,"y":55},{"x":128,"y":52},{"x":131,"y":66},{"x":133,"y":57},{"x":136,"y":48},{"x":139,"y":46},{"x":141,"y":61},{"x":144,"y":55},{"x":146,"y":53},{"x":149,"y":59},{"x":151,"y":63},{"x":154,"y":50},{"x":156,"y":56},{"x":159,"y":58},{"x":161,"y":54},{"x":164,"y":62},{"x":166,"y":51},{"x":169,"y":57},{"x":171,"y":65},{"x":174,"y":53},{"x":176,"y":60},{"x":179,"y":55},{"x":181,"y":49},{"x":184,"y":58},{"x":186,"y":62},{"x":189,"y":52},{"x":191,"y":56},{"x":194,"y":67},{"x":196,"y":54},{"x":199,"y":59},{"x":201,"y":51},{"x":204,"y":63},{"x":206,"y":57},{"x":209,"y":55},{"x":211,"y":48},{"x":214,"y":61},{"x":216,"y":53},{"x":219,"y":66},{"x":221,"y":58},{"x":224,"y":50},{"x":226,"y":56},{"x":229,"y":62},{"x":231,"y":54},{"x":234,"y":59},{"x":238,"y":45},{"x":240,"y":57},{"x":243,"y":64},{"x":245,"y":52},{"x":248,"y":55},{"x":250,"y":60},{"x":253,"y":49},{"x":255,"y":58},{"x":258,"y":63},{"x":260,"y":53},{"x":263,"y":56},{"x":265,"y":68},{"x":268,"y":51},{"x":270,"y":61},{"x":273,"y":55},{"x":275,"y":57},{"x":278,"y":47},{"x":280,"y":62},{"x":283,"y":54},{"x":285,"y":59},{"x":288,"y":65},{"x":290,"y":52},{"x":293,"y":56},{"x":295,"y":60},{"x":298,"y":50},{"x":300,"y":58},{"x":303,"y":53},{"x":306,"y":64},{"x":308,"y":57},{"x":311,"y":55},{"x":313,"y":49},{"x":317,"y":70},{"x":319,"y":61},{"x":322,"y":54},{"x":324,"y":58},{"x":327,"y":52},{"x":329,"y":66},{"x":332,"y":56},{"x":334,"y":60},{"x":337,"y":51},{"x":339,"y":57},{"x":342,"y":63},{"x":344,"y":54},{"x":347,"y":59},{"x":349,"y":48},{"x":352,"y":62},{"x":354,"y":55},{"x":357,"y":53},{"x":359,"y":67},{"x":362,"y":57},{"x":364,"y":50},{"x":368,"y":45},{"x":370,"y":60},{"x":373,"y":56},{"x":375,"y":64},{"x":378,"y":52},{"x":380,"y":58},{"x":383,"y":55},{"x":385,"y":61},{"x":388,"y":49},{"x":390,"y":57},{"x":393,"y":65},{"x":395,"y":53},{"x":398,"y":59},{"x":400,"y":56},{"x":405,"y":70},{"x":407,"y":62},{"x":410,"y":51},{"x":412,"y":58},{"x":415,"y":54},{"x":417,"y":63},{"x":420,"y":57},{"x":422,"y":48},{"x":425,"y":60},{"x":427,"y":55},{"x":430,"y":66},{"x":432,"y":52},{"x":435,"y":59},{"x":437,"y":56},{"x":440,"y":62},{"x":442,"y":50},{"x":447,"y":70},{"x":449,"y":58},{"x":452,"y":54},{"x":454,"y":64},{"x":457,"y":57},{"x":459,"y":47},{"x":462,"y":61},{"x":464,"y":55},{"x":467,"y":52},{"x":469,"y":68},{"x":472,"y":58},{"x":474,"y":56},{"x":477,"y":60},{"x":479,"y":49},{"x":482,"y":63},{"x":484,"y":54},{"x":487,"y":57},{"x":489,"y":65},{"x":492,"y":51},{"x":494,"y":59},{"x":497,"y":56},{"x":499,"y":62},{"x":502,"y":53},{"x":504,"y":58},{"x":507,"y":48},{"x":509,"y":66},{"x":512,"y":55},{"x":514,"y":60},{"x":517,"y":52},{"x":519,"y":71},{"x":522,"y":57},{"x":524,"y":54},{"x":527,"y":63},{"x":529,"y":59},{"x":532,"y":50},{"x":534,"y":56},{"x":537,"y":64},{"x":539,"y":58},{"x":542,"y":53},{"x":544,"y":61},{"x":547,"y":71},{"x":549,"y":55},{"x":552,"y":49},{"x":554,"y":62},{"x":557,"y":57},{"x":559,"y":54},{"x":562,"y":67},{"x":564,"y":59},{"x":567,"y":51},{"x":569,"y":56},{"x":572,"y":63},{"x":574,"y":53},{"x":577,"y":60},{"x":579,"y":58},{"x":582,"y":47},{"x":584,"y":65},{"x":587,"y":55},{"x":589,"y":61},{"x":592,"y":52},{"x":595,"y":43},{"x":597,"y":57},{"x":600,"y":64},{"x":602,"y":54},{"x":605,"y":59},{"x":607,"y":69},{"x":610,"y":56},{"x":612,"y":50},{"x":615,"y":62},{"x":617,"y":57},{"x":620,"y":70},{"x":622,"y":53},{"x":625,"y":60},{"x":627,"y":55},{"x":630,"y":66},{"x":632,"y":49},{"x":635,"y":58},{"x":637,"y":63},{"x":640,"y":54},{"x":642,"y":59},{"x":645,"y":52},{"x":647,"y":67},{"x":650,"y":56},{"x":652,"y":61},{"x":655,"y":48},{"x":657,"y":57},{"x":660,"y":64},{"x":662,"y":53},{"x":665,"y":58},{"x":667,"y":55},{"x":670,"y":62},{"x":672,"y":51},{"x":675,"y":59},{"x":677,"y":65},{"x":680,"y":56},{"x":682,"y":53},{"x":685,"y":60},{"x":687,"y":57},{"x":690,"y":49},{"x":692,"y":63},{"x":695,"y":55},{"x":697,"y":58},{"x":700,"y":52},{"x":702,"y":66},{"x":705,"y":57},{"x":707,"y":54},{"x":711,"y":42},{"x":713,"y":61},{"x":716,"y":56},{"x":718,"y":59},{"x":722,"y":44},{"x":724,"y":63},{"x":727,"y":53},{"x":729,"y":57},{"x":732,"y":60},{"x":734,"y":50},{"x":737,"y":65},{"x":739,"y":55},{"x":742,"y":58},{"x":744,"y":62},{"x":747,"y":52},{"x":749,"y":68},{"x":752,"y":57},{"x":754,"y":54},{"x":757,"y":61},{"x":759,"y":48},{"x":762,"y":56},{"x":764,"y":63},{"x":767,"y":59},{"x":769,"y":53},{"x":772,"y":66},{"x":774,"y":57},{"x":777,"y":70},{"x":779,"y":51},{"x":782,"y":60},{"x":784,"y":55},{"x":787,"y":62},{"x":789,"y":58},{"x":792,"y":49},{"x":794,"y":64},{"x":797,"y":56},{"x":799,"y":53},{"x":802,"y":59},{"x":804,"y":67},{"x":807,"y":54},{"x":809,"y":61},{"x":812,"y":57},{"x":814,"y":50},{"x":817,"y":63},{"x":819,"y":55},{"x":822,"y":58},{"x":824,"y":52},{"x":827,"y":65},{"x":829,"y":60},{"x":832,"y":56},{"x":834,"y":48},{"x":837,"y":62},{"x":839,"y":57},{"x":842,"y":54},{"x":844,"y":68},{"x":847,"y":59},{"x":849,"y":53},{"x":852,"y":61},{"x":854,"y":56},{"x":857,"y":64},{"x":859,"y":51},{"x":862,"y":58},{"x":864,"y":55},{"x":867,"y":62},{"x":869,"y":47},{"x":872,"y":66},{"x":874,"y":57},{"x":877,"y":53},{"x":879,"y":60},{"x":882,"y":56},{"x":884,"y":63},{"x":887,"y":50},{"x":889,"y":58},{"x":892,"y":54},{"x":894,"y":65},{"x":897,"y":59},{"x":899,"y":52},{"x":902,"y":61},{"x":904,"y":57},{"x":907,"y":55},{"x":909,"y":67},{"x":912,"y":49},{"x":914,"y":60},{"x":917,"y":56},{"x":920,"y":45},{"x":922,"y":63},{"x":925,"y":53},{"x":927,"y":58},{"x":930,"y":62},{"x":932,"y":51},{"x":935,"y":57},{"x":937,"y":66},{"x":940,"y":54},{"x":942,"y":60},{"x":945,"y":56},{"x":947,"y":48},{"x":950,"y":64},{"x":952,"y":55},{"x":955,"y":59},{"x":957,"y":74},{"x":960,"y":45},{"x":962,"y":52},{"x":965,"y":62},{"x":967,"y":57},{"x":970,"y":54},{"x":972,"y":68},{"x":975,"y":58},{"x":977,"y":50},{"x":980,"y":63},{"x":982,"y":56},{"x":985,"y":60},{"x":987,"y":53},{"x":990,"y":65},{"x":992,"y":57},{"x":995,"y":51},{"x":997,"y":59},{"x":1000,"y":55},{"x":1000,"y":62},{"x":999,"y":48},
{"x":1,"y":57},{"x":8,"y":53},{"x":15,"y":60},{"x":22,"y":55},{"x":29,"y":62},{"x":36,"y":58},{"x":43,"y":51},{"x":50,"y":56},{"x":57,"y":64},{"x":64,"y":54},{"x":71,"y":59},{"x":78,"y":57},{"x":85,"y":52},{"x":92,"y":61},{"x":99,"y":55},{"x":106,"y":66},{"x":113,"y":58},{"x":120,"y":53},{"x":127,"y":57},{"x":134,"y":62},{"x":141,"y":50},{"x":148,"y":56},{"x":155,"y":60},{"x":162,"y":54},{"x":169,"y":63},{"x":176,"y":58},{"x":183,"y":51},{"x":190,"y":57},{"x":197,"y":65},{"x":204,"y":55},{"x":211,"y":60},{"x":218,"y":52},{"x":225,"y":58},{"x":232,"y":63},{"x":239,"y":56},{"x":246,"y":49},{"x":253,"y":61},{"x":260,"y":57},{"x":267,"y":54},{"x":274,"y":64},{"x":281,"y":59},{"x":288,"y":55},{"x":295,"y":51},{"x":302,"y":62},{"x":309,"y":57},{"x":316,"y":60},{"x":323,"y":53},{"x":330,"y":56},{"x":337,"y":65},{"x":344,"y":58},{"x":351,"y":50},{"x":358,"y":61},{"x":365,"y":55},{"x":372,"y":59},{"x":379,"y":67},{"x":386,"y":54},{"x":393,"y":57},{"x":400,"y":62},{"x":407,"y":52},{"x":414,"y":56},{"x":421,"y":60},{"x":428,"y":64},{"x":435,"y":53},{"x":442,"y":58},{"x":449,"y":55},{"x":456,"y":61},{"x":463,"y":49},{"x":470,"y":57},{"x":477,"y":63},{"x":484,"y":56},{"x":491,"y":52},{"x":498,"y":60},{"x":505,"y":58},{"x":512,"y":65},{"x":519,"y":54},{"x":526,"y":57},{"x":533,"y":61},{"x":540,"y":51},{"x":547,"y":56},{"x":554,"y":59},{"x":561,"y":63},{"x":568,"y":55},{"x":575,"y":52},{"x":582,"y":58},{"x":589,"y":66},{"x":596,"y":54},{"x":603,"y":60},{"x":610,"y":57},{"x":617,"y":53},{"x":624,"y":62},{"x":631,"y":56},{"x":638,"y":50},{"x":645,"y":59},{"x":652,"y":64},{"x":659,"y":55},{"x":666,"y":57},{"x":673,"y":61},{"x":680,"y":52},{"x":687,"y":58},{"x":694,"y":66},{"x":701,"y":55},{"x":708,"y":60},{"x":715,"y":53},{"x":722,"y":57},{"x":729,"y":62},{"x":736,"y":56},{"x":743,"y":50},{"x":750,"y":59},{"x":757,"y":64},{"x":764,"y":55},{"x":771,"y":58},{"x":778,"y":53},{"x":785,"y":61},{"x":792,"y":57},{"x":799,"y":65},{"x":806,"y":52},{"x":813,"y":59},{"x":820,"y":55},{"x":827,"y":62},{"x":834,"y":57},{"x":841,"y":51},{"x":848,"y":60},{"x":855,"y":56},{"x":862,"y":63},{"x":869,"y":54},{"x":876,"y":58},{"x":883,"y":61},{"x":890,"y":55},{"x":897,"y":67},{"x":904,"y":53},{"x":911,"y":57},{"x":918,"y":62},{"x":925,"y":56},{"x":932,"y":59},{"x":939,"y":50},{"x":946,"y":58},{"x":953,"y":63},{"x":960,"y":55},{"x":967,"y":60},{"x":974,"y":53},{"x":981,"y":57},{"x":988,"y":62},{"x":995,"y":56},{"x":999,"y":59}],
"cb":[{"x":0,"y":1},{"x":3,"y":4},{"x":6,"y":0},{"x":9,"y":2},{"x":12,"y":3},{"x":15,"y":5},{"x":18,"y":1},{"x":21,"y":2},{"x":24,"y":0},{"x":27,"y":3},{"x":30,"y":6},{"x":33,"y":1},{"x":36,"y":7},{"x":39,"y":2},{"x":42,"y":4},{"x":45,"y":0},{"x":48,"y":3},{"x":51,"y":1},{"x":54,"y":5},{"x":57,"y":2},{"x":60,"y":6},{"x":63,"y":0},{"x":66,"y":3},{"x":69,"y":1},{"x":72,"y":4},{"x":75,"y":2},{"x":78,"y":0},{"x":81,"y":3},{"x":84,"y":5},{"x":87,"y":1},{"x":90,"y":2},{"x":94,"y":7},{"x":97,"y":0},{"x":100,"y":4},{"x":103,"y":1},{"x":106,"y":3},{"x":109,"y":2},{"x":112,"y":5},{"x":115,"y":0},{"x":118,"y":2},{"x":120,"y":11},{"x":123,"y":1},{"x":126,"y":3},{"x":129,"y":4},{"x":132,"y":0},{"x":135,"y":2},{"x":138,"y":5},{"x":141,"y":6},{"x":144,"y":1},{"x":147,"y":3},{"x":150,"y":0},{"x":153,"y":4},{"x":156,"y":2},{"x":159,"y":1},{"x":162,"y":5},{"x":165,"y":6},{"x":168,"y":0},{"x":171,"y":3},{"x":174,"y":2},{"x":177,"y":6},{"x":180,"y":1},{"x":183,"y":4},{"x":186,"y":0},{"x":189,"y":2},{"x":192,"y":3},{"x":195,"y":5},{"x":198,"y":1},{"x":201,"y":0},{"x":204,"y":4},{"x":207,"y":2},{"x":210,"y":3},{"x":213,"y":5},{"x":216,"y":1},{"x":219,"y":0},{"x":222,"y":2},{"x":225,"y":4},{"x":228,"y":7},{"x":231,"y":1},{"x":234,"y":3},{"x":237,"y":0},{"x":240,"y":2},{"x":243,"y":5},{"x":246,"y":1},{"x":249,"y":3},{"x":252,"y":7},{"x":255,"y":8},{"x":258,"y":2},{"x":261,"y":0},{"x":264,"y":4},{"x":267,"y":1},{"x":270,"y":3},{"x":273,"y":2},{"x":276,"y":5},{"x":279,"y":0},{"x":282,"y":1},{"x":285,"y":3},{"x":288,"y":4},{"x":291,"y":2},{"x":294,"y":0},{"x":297,"y":1},{"x":300,"y":6},{"x":305,"y":9},{"x":308,"y":3},{"x":311,"y":7},{"x":314,"y":1},{"x":317,"y":4},{"x":320,"y":0},{"x":323,"y":2},{"x":326,"y":5},{"x":329,"y":1},{"x":332,"y":3},{"x":335,"y":7},{"x":338,"y":0},{"x":341,"y":2},{"x":344,"y":4},{"x":347,"y":7},{"x":350,"y":1},{"x":353,"y":3},{"x":356,"y":0},{"x":359,"y":2},{"x":362,"y":6},{"x":365,"y":1},{"x":368,"y":4},{"x":371,"y":0},{"x":374,"y":3},{"x":377,"y":5},{"x":380,"y":2},{"x":383,"y":1},{"x":386,"y":0},{"x":389,"y":4},{"x":392,"y":6},{"x":395,"y":2},{"x":398,"y":3},{"x":401,"y":7},{"x":405,"y":9},{"x":408,"y":1},{"x":411,"y":0},{"x":414,"y":3},{"x":417,"y":5},{"x":420,"y":2},{"x":423,"y":1},{"x":426,"y":8},{"x":429,"y":4},{"x":432,"y":0},{"x":435,"y":2},{"x":438,"y":3},{"x":441,"y":1},{"x":444,"y":5},{"x":447,"y":0},{"x":450,"y":2},{"x":453,"y":4},{"x":456,"y":1},{"x":459,"y":3},{"x":462,"y":0},{"x":465,"y":2},{"x":468,"y":5},{"x":471,"y":1},{"x":474,"y":7},{"x":477,"y":3},{"x":480,"y":0},{"x":483,"y":2},{"x":486,"y":4},{"x":489,"y":1},{"x":492,"y":3},{"x":495,"y":0},{"x":498,"y":5},{"x":501,"y":2},{"x":504,"y":1},{"x":507,"y":6},{"x":510,"y":8},{"x":513,"y":3},{"x":516,"y":0},{"x":519,"y":2},{"x":522,"y":6},{"x":525,"y":1},{"x":528,"y":4},{"x":531,"y":0},{"x":534,"y":3},{"x":537,"y":2},{"x":540,"y":5},{"x":543,"y":1},{"x":546,"y":0},{"x":549,"y":3},{"x":552,"y":4},{"x":555,"y":2},{"x":558,"y":1},{"x":561,"y":0},{"x":564,"y":3},{"x":567,"y":6},{"x":570,"y":2},{"x":573,"y":9},{"x":576,"y":8},{"x":579,"y":10},{"x":582,"y":1},{"x":585,"y":3},{"x":588,"y":7},{"x":591,"y":0},{"x":594,"y":2},{"x":597,"y":4},{"x":600,"y":1},{"x":603,"y":3},{"x":606,"y":0},{"x":609,"y":5},{"x":612,"y":2},{"x":615,"y":1},{"x":618,"y":4},{"x":621,"y":0},{"x":624,"y":3},{"x":627,"y":2},{"x":630,"y":6},{"x":633,"y":1},{"x":636,"y":0},{"x":639,"y":4},{"x":642,"y":2},{"x":645,"y":5},{"x":648,"y":1},{"x":651,"y":9},{"x":654,"y":3},{"x":657,"y":0},{"x":660,"y":2},{"x":663,"y":4},{"x":666,"y":1},{"x":669,"y":6},{"x":672,"y":3},{"x":675,"y":0},{"x":678,"y":2},{"x":681,"y":5},{"x":684,"y":1},{"x":687,"y":3},{"x":690,"y":0},{"x":693,"y":4},{"x":696,"y":2},{"x":699,"y":1},{"x":702,"y":3},{"x":705,"y":7},{"x":708,"y":0},{"x":711,"y":2},{"x":714,"y":5},{"x":717,"y":1},{"x":720,"y":3},{"x":723,"y":0},{"x":726,"y":2},{"x":729,"y":4},{"x":732,"y":6},{"x":735,"y":1},{"x":738,"y":3},{"x":741,"y":7},{"x":744,"y":0},{"x":747,"y":2},{"x":750,"y":5},{"x":753,"y":1},{"x":756,"y":4},{"x":759,"y":0},{"x":762,"y":3},{"x":765,"y":2},{"x":768,"y":6},{"x":771,"y":1},{"x":775,"y":9},{"x":778,"y":3},{"x":781,"y":0},{"x":784,"y":2},{"x":787,"y":4},{"x":790,"y":1},{"x":793,"y":6},{"x":796,"y":7},{"x":799,"y":0},{"x":802,"y":3},{"x":805,"y":2},{"x":808,"y":5},{"x":811,"y":1},{"x":814,"y":0},{"x":817,"y":4},{"x":820,"y":2},{"x":823,"y":3},{"x":826,"y":6},{"x":829,"y":1},{"x":832,"y":0},{"x":835,"y":5},{"x":838,"y":2},{"x":841,"y":7},{"x":844,"y":3},{"x":847,"y":1},{"x":850,"y":6},{"x":853,"y":0},{"x":856,"y":4},{"x":859,"y":2},{"x":862,"y":5},{"x":865,"y":1},{"x":868,"y":3},{"x":871,"y":0},{"x":874,"y":7},{"x":877,"y":2},{"x":880,"y":4},{"x":883,"y":1},{"x":886,"y":6},{"x":889,"y":0},{"x":892,"y":3},{"x":895,"y":2},{"x":898,"y":5},{"x":901,"y":1},{"x":904,"y":7},{"x":907,"y":6},{"x":910,"y":0},{"x":913,"y":2},{"x":916,"y":4},{"x":919,"y":1},{"x":922,"y":3},{"x":925,"y":0},{"x":928,"y":2},{"x":931,"y":5},{"x":934,"y":1},{"x":937,"y":3},{"x":940,"y":0},{"x":943,"y":4},{"x":946,"y":2},{"x":949,"y":1},{"x":952,"y":5},{"x":955,"y":3},{"x":958,"y":0},{"x":961,"y":6},{"x":964,"y":2},{"x":967,"y":7},{"x":970,"y":8},{"x":973,"y":1},{"x":976,"y":4},{"x":979,"y":0},{"x":982,"y":7},{"x":985,"y":2},{"x":988,"y":6},{"x":991,"y":3},{"x":994,"y":1},{"x":997,"y":0},{"x":1000,"y":2},{"x":1000,"y":4},
{"x":1,"y":2},{"x":13,"y":0},{"x":25,"y":3},{"x":37,"y":1},{"x":49,"y":4},{"x":61,"y":2},{"x":73,"y":0},{"x":85,"y":1},{"x":97,"y":3},{"x":109,"y":5},{"x":121,"y":2},{"x":133,"y":0},{"x":145,"y":1},{"x":157,"y":3},{"x":169,"y":4},{"x":181,"y":0},{"x":193,"y":2},{"x":205,"y":1},{"x":217,"y":3},{"x":229,"y":0},{"x":241,"y":4},{"x":253,"y":2},{"x":265,"y":1},{"x":277,"y":3},{"x":289,"y":0},{"x":301,"y":2},{"x":313,"y":5},{"x":325,"y":1},{"x":337,"y":3},{"x":349,"y":0},{"x":361,"y":2},{"x":373,"y":4},{"x":385,"y":1},{"x":397,"y":0},{"x":409,"y":3},{"x":421,"y":2},{"x":433,"y":5},{"x":445,"y":1},{"x":457,"y":0},{"x":469,"y":3},{"x":481,"y":2},{"x":493,"y":4},{"x":505,"y":0},{"x":517,"y":1},{"x":529,"y":3},{"x":541,"y":2},{"x":553,"y":0},{"x":565,"y":4},{"x":577,"y":1},{"x":589,"y":2},{"x":601,"y":0},{"x":613,"y":3},{"x":625,"y":5},{"x":637,"y":1},{"x":649,"y":2},{"x":661,"y":0},{"x":673,"y":4},{"x":685,"y":3},{"x":697,"y":1},{"x":709,"y":0},{"x":721,"y":2},{"x":733,"y":3},{"x":745,"y":1},{"x":757,"y":5},{"x":769,"y":0},{"x":781,"y":2},{"x":793,"y":3},{"x":805,"y":1},{"x":817,"y":0},{"x":829,"y":4},{"x":841,"y":2},{"x":853,"y":1},{"x":865,"y":3},{"x":877,"y":0},{"x":889,"y":2},{"x":901,"y":4},{"x":913,"y":1},{"x":925,"y":0},{"x":937,"y":3},{"x":949,"y":2},{"x":961,"y":1},{"x":973,"y":0},{"x":985,"y":3},{"x":997,"y":2}],
"dr":[{"x":0,"y":290},{"x":3,"y":298},{"x":6,"y":285},{"x":9,"y":302},{"x":12,"y":294},{"x":15,"y":288},{"x":18,"y":305},{"x":21,"y":296},{"x":24,"y":291},{"x":27,"y":300},{"x":30,"y":286},{"x":33,"y":303},{"x":36,"y":293},{"x":39,"y":298},{"x":42,"y":289},{"x":45,"y":306},{"x":48,"y":295},{"x":51,"y":284},{"x":54,"y":299},{"x":57,"y":292},{"x":60,"y":304},{"x":63,"y":297},{"x":66,"y":287},{"x":69,"y":301},{"x":72,"y":294},{"x":75,"y":308},{"x":78,"y":290},{"x":81,"y":296},{"x":84,"y":283},{"x":87,"y":302},{"x":90,"y":298},{"x":93,"y":288},{"x":96,"y":305},{"x":99,"y":293},{"x":102,"y":318},{"x":105,"y":299},{"x":108,"y":286},{"x":111,"y":295},{"x":114,"y":303},{"x":116,"y":277},{"x":119,"y":291},{"x":122,"y":300},{"x":125,"y":289},{"x":128,"y":297},{"x":131,"y":315},{"x":131,"y":267},{"x":134,"y":294},{"x":137,"y":306},{"x":140,"y":285},{"x":143,"y":299},{"x":146,"y":292},{"x":149,"y":302},{"x":152,"y":288},{"x":155,"y":296},{"x":158,"y":309},{"x":161,"y":293},{"x":164,"y":284},{"x":167,"y":300},{"x":170,"y":297},{"x":173,"y":290},{"x":176,"y":305},{"x":179,"y":295},{"x":182,"y":287},{"x":187,"y":320},{"x":190,"y":298},{"x":193,"y":291},{"x":196,"y":303},{"x":199,"y":282},{"x":202,"y":296},{"x":205,"y":300},{"x":208,"y":289},{"x":211,"y":307},{"x":214,"y":294},{"x":217,"y":286},{"x":220,"y":299},{"x":223,"y":292},{"x":226,"y":304},{"x":229,"y":297},{"x":232,"y":288},{"x":235,"y":301},{"x":238,"y":295},{"x":241,"y":284},{"x":244,"y":310},{"x":247,"y":293},{"x":250,"y":298},{"x":253,"y":287},{"x":256,"y":302},{"x":259,"y":296},{"x":262,"y":290},{"x":265,"y":306},{"x":268,"y":294},{"x":271,"y":285},{"x":274,"y":300},{"x":277,"y":297},{"x":280,"y":289},{"x":283,"y":303},{"x":287,"y":312},{"x":287,"y":277},{"x":290,"y":292},{"x":293,"y":299},{"x":296,"y":286},{"x":299,"y":305},{"x":302,"y":295},{"x":305,"y":290},{"x":308,"y":301},{"x":311,"y":283},{"x":314,"y":297},{"x":317,"y":308},{"x":320,"y":293},{"x":323,"y":288},{"x":326,"y":300},{"x":329,"y":296},{"x":332,"y":304},{"x":335,"y":287},{"x":338,"y":298},{"x":341,"y":292},{"x":344,"y":306},{"x":347,"y":285},{"x":350,"y":299},{"x":353,"y":294},{"x":356,"y":302},{"x":359,"y":289},{"x":364,"y":312},{"x":367,"y":296},{"x":370,"y":291},{"x":373,"y":303},{"x":376,"y":286},{"x":379,"y":298},{"x":382,"y":293},{"x":385,"y":307},{"x":388,"y":288},{"x":391,"y":300},{"x":394,"y":295},{"x":397,"y":284},{"x":400,"y":273},{"x":403,"y":301},{"x":406,"y":297},{"x":409,"y":290},{"x":412,"y":305},{"x":415,"y":292},{"x":418,"y":287},{"x":421,"y":299},{"x":424,"y":294},{"x":427,"y":309},{"x":430,"y":289},{"x":433,"y":302},{"x":436,"y":296},{"x":439,"y":283},{"x":442,"y":300},{"x":445,"y":293},{"x":448,"y":306},{"x":451,"y":288},{"x":454,"y":298},{"x":457,"y":291},{"x":460,"y":303},{"x":463,"y":295},{"x":466,"y":285},{"x":469,"y":301},{"x":472,"y":297},{"x":475,"y":290},{"x":478,"y":307},{"x":481,"y":294},{"x":484,"y":287},{"x":487,"y":299},{"x":490,"y":292},{"x":493,"y":304},{"x":496,"y":296},{"x":499,"y":282},{"x":502,"y":300},{"x":505,"y":289},{"x":508,"y":305},{"x":511,"y":293},{"x":514,"y":298},{"x":517,"y":286},{"x":520,"y":302},{"x":523,"y":295},{"x":526,"y":310},{"x":529,"y":291},{"x":532,"y":299},{"x":535,"y":284},{"x":538,"y":296},{"x":541,"y":303},{"x":544,"y":288},{"x":547,"y":300},{"x":550,"y":293},{"x":553,"y":307},{"x":556,"y":287},{"x":559,"y":297},{"x":562,"y":292},{"x":565,"y":305},{"x":568,"y":285},{"x":571,"y":299},{"x":574,"y":294},{"x":577,"y":311},{"x":580,"y":290},{"x":583,"y":302},{"x":586,"y":296},{"x":589,"y":283},{"x":592,"y":301},{"x":595,"y":293},{"x":598,"y":306},{"x":601,"y":288},{"x":604,"y":298},{"x":607,"y":291},{"x":610,"y":304},{"x":613,"y":286},{"x":616,"y":300},{"x":619,"y":295},{"x":622,"y":309},{"x":625,"y":289},{"x":628,"y":297},{"x":631,"y":284},{"x":634,"y":303},{"x":637,"y":292},{"x":640,"y":299},{"x":643,"y":287},{"x":646,"y":306},{"x":649,"y":294},{"x":652,"y":301},{"x":655,"y":290},{"x":659,"y":321},{"x":662,"y":296},{"x":665,"y":285},{"x":668,"y":304},{"x":671,"y":293},{"x":674,"y":299},{"x":677,"y":288},{"x":680,"y":308},{"x":683,"y":295},{"x":686,"y":291},{"x":689,"y":302},{"x":692,"y":284},{"x":695,"y":297},{"x":698,"y":300},{"x":701,"y":289},{"x":704,"y":306},{"x":707,"y":293},{"x":710,"y":298},{"x":713,"y":286},{"x":716,"y":303},{"x":719,"y":295},{"x":722,"y":290},{"x":725,"y":310},{"x":728,"y":297},{"x":731,"y":283},{"x":734,"y":301},{"x":737,"y":292},{"x":740,"y":305},{"x":743,"y":288},{"x":746,"y":299},{"x":749,"y":294},{"x":752,"y":307},{"x":755,"y":286},{"x":758,"y":300},{"x":761,"y":296},{"x":764,"y":289},{"x":767,"y":304},{"x":770,"y":292},{"x":773,"y":298},{"x":776,"y":285},{"x":779,"y":302},{"x":782,"y":295},{"x":785,"y":309},{"x":788,"y":290},{"x":791,"y":297},{"x":794,"y":284},{"x":797,"y":303},{"x":800,"y":293},{"x":803,"y":299},{"x":806,"y":287},{"x":809,"y":306},{"x":812,"y":296},{"x":815,"y":291},{"x":818,"y":312},{"x":821,"y":288},{"x":824,"y":300},{"x":827,"y":294},{"x":830,"y":305},{"x":833,"y":286},{"x":836,"y":298},{"x":839,"y":292},{"x":842,"y":308},{"x":845,"y":289},{"x":848,"y":301},{"x":851,"y":295},{"x":854,"y":283},{"x":857,"y":303},{"x":860,"y":297},{"x":863,"y":290},{"x":866,"y":306},{"x":869,"y":293},{"x":872,"y":299},{"x":875,"y":287},{"x":878,"y":304},{"x":881,"y":296},{"x":884,"y":291},{"x":887,"y":310},{"x":890,"y":285},{"x":893,"y":300},{"x":896,"y":294},{"x":899,"y":302},{"x":902,"y":288},{"x":905,"y":297},{"x":908,"y":307},{"x":911,"y":292},{"x":914,"y":299},{"x":917,"y":284},{"x":920,"y":303},{"x":923,"y":295},{"x":926,"y":289},{"x":929,"y":306},{"x":932,"y":293},{"x":935,"y":278},{"x":938,"y":300},{"x":941,"y":296},{"x":944,"y":286},{"x":947,"y":304},{"x":950,"y":291},{"x":953,"y":298},{"x":956,"y":309},{"x":959,"y":288},{"x":962,"y":301},{"x":965,"y":294},{"x":968,"y":285},{"x":971,"y":305},{"x":974,"y":297},{"x":977,"y":290},{"x":980,"y":302},{"x":983,"y":293},{"x":986,"y":318},{"x":989,"y":287},{"x":992,"y":299},{"x":995,"y":295},{"x":998,"y":306},{"x":1000,"y":290},{"x":1000,"y":300},
{"x":1,"y":296},{"x":8,"y":291},{"x":15,"y":300},{"x":22,"y":288},{"x":29,"y":304},{"x":36,"y":295},{"x":43,"y":299},{"x":50,"y":290},{"x":57,"y":302},{"x":64,"y":294},{"x":71,"y":307},{"x":78,"y":297},{"x":85,"y":292},{"x":92,"y":300},{"x":99,"y":286},{"x":106,"y":296},{"x":113,"y":303},{"x":120,"y":293},{"x":127,"y":299},{"x":134,"y":289},{"x":141,"y":305},{"x":148,"y":296},{"x":155,"y":292},{"x":162,"y":301},{"x":169,"y":287},{"x":176,"y":298},{"x":183,"y":294},{"x":190,"y":306},{"x":197,"y":290},{"x":204,"y":297},{"x":211,"y":302},{"x":218,"y":293},{"x":225,"y":288},{"x":232,"y":299},{"x":239,"y":304},{"x":246,"y":296},{"x":253,"y":291},{"x":260,"y":300},{"x":267,"y":295},{"x":274,"y":308},{"x":281,"y":292},{"x":288,"y":297},{"x":295,"y":289},{"x":302,"y":303},{"x":309,"y":298},{"x":316,"y":294},{"x":323,"y":286},{"x":330,"y":301},{"x":337,"y":296},{"x":344,"y":290},{"x":351,"y":305},{"x":358,"y":293},{"x":365,"y":299},{"x":372,"y":288},{"x":379,"y":302},{"x":386,"y":296},{"x":393,"y":292},{"x":400,"y":307},{"x":407,"y":295},{"x":414,"y":290},{"x":421,"y":300},{"x":428,"y":297},{"x":435,"y":286},{"x":442,"y":303},{"x":449,"y":294},{"x":456,"y":299},{"x":463,"y":290},{"x":470,"y":305},{"x":477,"y":296},{"x":484,"y":292},{"x":491,"y":301},{"x":498,"y":288},{"x":505,"y":297},{"x":512,"y":294},{"x":519,"y":304},{"x":526,"y":298},{"x":533,"y":291},{"x":540,"y":300},{"x":547,"y":295},{"x":554,"y":289},{"x":561,"y":303},{"x":568,"y":297},{"x":575,"y":292},{"x":582,"y":306},{"x":589,"y":294},{"x":596,"y":299},{"x":603,"y":287},{"x":610,"y":302},{"x":617,"y":296},{"x":624,"y":291},{"x":631,"y":300},{"x":638,"y":295},{"x":645,"y":309},{"x":652,"y":292},{"x":659,"y":298},{"x":666,"y":289},{"x":673,"y":303},{"x":680,"y":296},{"x":687,"y":292},{"x":694,"y":301},{"x":701,"y":286},{"x":708,"y":297},{"x":715,"y":305},{"x":722,"y":294},{"x":729,"y":299},{"x":736,"y":290},{"x":743,"y":302},{"x":750,"y":296},{"x":757,"y":291},{"x":764,"y":307},{"x":771,"y":294},{"x":778,"y":299},{"x":785,"y":288},{"x":792,"y":303},{"x":799,"y":297},{"x":806,"y":292},{"x":813,"y":300},{"x":820,"y":295},{"x":827,"y":289},{"x":834,"y":304},{"x":841,"y":296},{"x":848,"y":292},{"x":855,"y":301},{"x":862,"y":287},{"x":869,"y":298},{"x":876,"y":294},{"x":883,"y":306},{"x":890,"y":291},{"x":897,"y":299},{"x":904,"y":295},{"x":911,"y":288},{"x":918,"y":302},{"x":925,"y":297},{"x":932,"y":292},{"x":939,"y":305},{"x":946,"y":294},{"x":953,"y":299},{"x":960,"y":290},{"x":967,"y":303},{"x":974,"y":296},{"x":981,"y":291},{"x":988,"y":300},{"x":995,"y":295},{"x":999,"y":297}],
"db":[{"x":0,"y":3},{"x":3,"y":6},{"x":6,"y":1},{"x":9,"y":4},{"x":12,"y":8},{"x":15,"y":2},{"x":18,"y":5},{"x":21,"y":0},{"x":24,"y":3},{"x":27,"y":7},{"x":30,"y":4},{"x":33,"y":1},{"x":36,"y":6},{"x":39,"y":3},{"x":42,"y":9},{"x":45,"y":2},{"x":48,"y":5},{"x":51,"y":0},{"x":54,"y":4},{"x":57,"y":11},{"x":60,"y":3},{"x":63,"y":7},{"x":65,"y":17},{"x":68,"y":14},{"x":71,"y":2},{"x":74,"y":5},{"x":77,"y":1},{"x":80,"y":8},{"x":83,"y":4},{"x":86,"y":3},{"x":89,"y":6},{"x":92,"y":0},{"x":95,"y":9},{"x":98,"y":2},{"x":101,"y":5},{"x":104,"y":3},{"x":107,"y":7},{"x":110,"y":1},{"x":113,"y":4},{"x":116,"y":10},{"x":119,"y":2},{"x":122,"y":6},{"x":125,"y":3},{"x":128,"y":0},{"x":131,"y":5},{"x":134,"y":8},{"x":137,"y":2},{"x":140,"y":4},{"x":143,"y":1},{"x":146,"y":7},{"x":149,"y":3},{"x":152,"y":5},{"x":155,"y":9},{"x":158,"y":2},{"x":161,"y":0},{"x":164,"y":13},{"x":167,"y":4},{"x":170,"y":6},{"x":173,"y":2},{"x":176,"y":8},{"x":179,"y":3},{"x":182,"y":1},{"x":185,"y":5},{"x":188,"y":10},{"x":191,"y":3},{"x":194,"y":7},{"x":197,"y":0},{"x":200,"y":4},{"x":203,"y":2},{"x":206,"y":9},{"x":209,"y":5},{"x":212,"y":1},{"x":215,"y":6},{"x":218,"y":3},{"x":221,"y":8},{"x":224,"y":2},{"x":227,"y":4},{"x":230,"y":0},{"x":233,"y":7},{"x":236,"y":3},{"x":239,"y":10},{"x":242,"y":5},{"x":245,"y":1},{"x":248,"y":4},{"x":251,"y":6},{"x":254,"y":2},{"x":257,"y":9},{"x":260,"y":3},{"x":263,"y":0},{"x":266,"y":5},{"x":270,"y":13},{"x":273,"y":7},{"x":276,"y":2},{"x":279,"y":4},{"x":282,"y":1},{"x":285,"y":8},{"x":288,"y":3},{"x":291,"y":6},{"x":294,"y":0},{"x":297,"y":4},{"x":300,"y":10},{"x":303,"y":2},{"x":306,"y":5},{"x":309,"y":1},{"x":312,"y":7},{"x":315,"y":3},{"x":318,"y":11},{"x":321,"y":4},{"x":324,"y":2},{"x":328,"y":15},{"x":331,"y":6},{"x":334,"y":0},{"x":337,"y":3},{"x":340,"y":9},{"x":343,"y":5},{"x":346,"y":1},{"x":349,"y":4},{"x":352,"y":7},{"x":355,"y":2},{"x":358,"y":3},{"x":361,"y":8},{"x":364,"y":0},{"x":367,"y":5},{"x":370,"y":2},{"x":373,"y":6},{"x":376,"y":4},{"x":379,"y":1},{"x":382,"y":9},{"x":385,"y":3},{"x":388,"y":7},{"x":391,"y":0},{"x":394,"y":4},{"x":397,"y":2},{"x":400,"y":5},{"x":403,"y":8},{"x":406,"y":1},{"x":409,"y":3},{"x":412,"y":6},{"x":415,"y":2},{"x":418,"y":10},{"x":421,"y":4},{"x":424,"y":0},{"x":427,"y":7},{"x":430,"y":3},{"x":433,"y":5},{"x":436,"y":1},{"x":439,"y":8},{"x":442,"y":2},{"x":445,"y":4},{"x":448,"y":6},{"x":451,"y":0},{"x":454,"y":3},{"x":457,"y":9},{"x":460,"y":5},{"x":463,"y":1},{"x":466,"y":7},{"x":469,"y":2},{"x":472,"y":4},{"x":475,"y":10},{"x":478,"y":3},{"x":481,"y":0},{"x":484,"y":6},{"x":487,"y":2},{"x":490,"y":5},{"x":493,"y":8},{"x":496,"y":1},{"x":499,"y":4},{"x":502,"y":3},{"x":505,"y":7},{"x":508,"y":0},{"x":511,"y":5},{"x":514,"y":2},{"x":517,"y":9},{"x":520,"y":4},{"x":523,"y":1},{"x":526,"y":6},{"x":529,"y":3},{"x":532,"y":8},{"x":535,"y":2},{"x":538,"y":0},{"x":541,"y":5},{"x":544,"y":10},{"x":547,"y":3},{"x":550,"y":1},{"x":553,"y":7},{"x":556,"y":4},{"x":559,"y":2},{"x":562,"y":6},{"x":565,"y":0},{"x":568,"y":9},{"x":571,"y":3},{"x":574,"y":5},{"x":577,"y":1},{"x":580,"y":7},{"x":583,"y":4},{"x":586,"y":2},{"x":589,"y":8},{"x":592,"y":0},{"x":595,"y":5},{"x":598,"y":12},{"x":601,"y":3},{"x":604,"y":6},{"x":607,"y":1},{"x":610,"y":4},{"x":613,"y":9},{"x":616,"y":2},{"x":619,"y":7},{"x":622,"y":0},{"x":625,"y":3},{"x":628,"y":5},{"x":631,"y":8},{"x":634,"y":2},{"x":637,"y":4},{"x":640,"y":1},{"x":643,"y":6},{"x":646,"y":10},{"x":649,"y":3},{"x":652,"y":0},{"x":655,"y":5},{"x":658,"y":7},{"x":661,"y":2},{"x":664,"y":4},{"x":667,"y":9},{"x":670,"y":1},{"x":673,"y":6},{"x":676,"y":3},{"x":679,"y":0},{"x":682,"y":8},{"x":685,"y":4},{"x":688,"y":2},{"x":691,"y":5},{"x":694,"y":12},{"x":697,"y":3},{"x":700,"y":7},{"x":703,"y":1},{"x":706,"y":4},{"x":709,"y":0},{"x":712,"y":6},{"x":715,"y":2},{"x":718,"y":9},{"x":721,"y":5},{"x":724,"y":3},{"x":727,"y":1},{"x":730,"y":7},{"x":733,"y":4},{"x":736,"y":0},{"x":739,"y":8},{"x":742,"y":2},{"x":745,"y":5},{"x":748,"y":10},{"x":751,"y":3},{"x":754,"y":1},{"x":757,"y":6},{"x":760,"y":4},{"x":763,"y":0},{"x":766,"y":7},{"x":769,"y":2},{"x":772,"y":9},{"x":775,"y":5},{"x":778,"y":3},{"x":781,"y":1},{"x":784,"y":8},{"x":787,"y":4},{"x":790,"y":2},{"x":793,"y":6},{"x":796,"y":0},{"x":799,"y":3},{"x":802,"y":7},{"x":805,"y":5},{"x":808,"y":1},{"x":811,"y":9},{"x":814,"y":4},{"x":817,"y":2},{"x":820,"y":6},{"x":823,"y":0},{"x":826,"y":3},{"x":830,"y":12},{"x":833,"y":11},{"x":836,"y":5},{"x":839,"y":1},{"x":842,"y":8},{"x":845,"y":4},{"x":848,"y":2},{"x":851,"y":6},{"x":854,"y":0},{"x":857,"y":9},{"x":860,"y":3},{"x":863,"y":5},{"x":866,"y":1},{"x":869,"y":7},{"x":872,"y":4},{"x":875,"y":2},{"x":878,"y":10},{"x":881,"y":0},{"x":885,"y":13},{"x":888,"y":6},{"x":891,"y":3},{"x":894,"y":5},{"x":897,"y":1},{"x":900,"y":8},{"x":903,"y":4},{"x":906,"y":2},{"x":909,"y":7},{"x":912,"y":0},{"x":915,"y":9},{"x":918,"y":3},{"x":921,"y":5},{"x":924,"y":1},{"x":927,"y":6},{"x":930,"y":4},{"x":933,"y":2},{"x":936,"y":8},{"x":939,"y":0},{"x":942,"y":10},{"x":945,"y":3},{"x":948,"y":5},{"x":951,"y":1},{"x":954,"y":7},{"x":957,"y":4},{"x":960,"y":2},{"x":963,"y":9},{"x":966,"y":0},{"x":969,"y":6},{"x":972,"y":3},{"x":975,"y":8},{"x":978,"y":1},{"x":981,"y":5},{"x":984,"y":4},{"x":987,"y":2},{"x":990,"y":7},{"x":993,"y":0},{"x":996,"y":3},{"x":999,"y":6},{"x":1000,"y":2},
{"x":1,"y":5},{"x":13,"y":2},{"x":25,"y":7},{"x":37,"y":4},{"x":49,"y":1},{"x":61,"y":6},{"x":73,"y":3},{"x":85,"y":8},{"x":97,"y":0},{"x":109,"y":5},{"x":121,"y":2},{"x":133,"y":6},{"x":145,"y":4},{"x":157,"y":1},{"x":169,"y":7},{"x":181,"y":3},{"x":193,"y":5},{"x":205,"y":0},{"x":217,"y":4},{"x":229,"y":6},{"x":241,"y":2},{"x":253,"y":8},{"x":265,"y":3},{"x":277,"y":5},{"x":289,"y":1},{"x":301,"y":6},{"x":313,"y":4},{"x":325,"y":2},{"x":337,"y":7},{"x":349,"y":0},{"x":361,"y":5},{"x":373,"y":3},{"x":385,"y":6},{"x":397,"y":1},{"x":409,"y":4},{"x":421,"y":8},{"x":433,"y":2},{"x":445,"y":5},{"x":457,"y":3},{"x":469,"y":0},{"x":481,"y":6},{"x":493,"y":4},{"x":505,"y":2},{"x":517,"y":7},{"x":529,"y":1},{"x":541,"y":5},{"x":553,"y":3},{"x":565,"y":6},{"x":577,"y":0},{"x":589,"y":4},{"x":601,"y":2},{"x":613,"y":8},{"x":625,"y":5},{"x":637,"y":3},{"x":649,"y":1},{"x":661,"y":6},{"x":673,"y":4},{"x":685,"y":2},{"x":697,"y":7},{"x":709,"y":0},{"x":721,"y":5},{"x":733,"y":3},{"x":745,"y":6},{"x":757,"y":1},{"x":769,"y":4},{"x":781,"y":8},{"x":793,"y":2},{"x":805,"y":5},{"x":817,"y":3},{"x":829,"y":0},{"x":841,"y":6},{"x":853,"y":4},{"x":865,"y":2},{"x":877,"y":7},{"x":889,"y":1},{"x":901,"y":5},{"x":913,"y":3},{"x":925,"y":6},{"x":937,"y":0},{"x":949,"y":4},{"x":961,"y":2},{"x":973,"y":7},{"x":985,"y":5},{"x":997,"y":3}]
},
"bounds":"flush",
"columns":2,
"spacing":{"row":102,"column":294},
"concat":[
 {"width":353,"height":278,"title":{"text":"(a) Uniform distribution"},
  "resolve":{"axis":{"x":"independent","y":"independent"}},
  "layer":[
   {"data":{"name":"ab"},"mark":{"type":"point","shape":"M-1,0L1,0M0,-1L0,1","color":"#0000ff","size":64,"strokeWidth":1.1,"clip":false},
    "encoding":{"x":{"field":"x","type":"quantitative","scale":{"domain":[0,1000],"nice":false},"axis":{"orient":"top","labels":false,"values":[0,100,200,300,400,500,600,700,800,900,1000]}},
     "y":{"field":"y","type":"quantitative","scale":{"domain":[0,4.5],"nice":false},"axis":{"orient":"right","labels":false,"values":[0,0.5,1,1.5,2,2.5,3,3.5,4,4.5]}}}},
   {"data":{"name":"ar"},"mark":{"type":"point","shape":"M-1,0L1,0M0,-1L0,1M-0.7,-0.7L0.7,0.7M-0.7,0.7L0.7,-0.7","color":"#ff0000","size":56,"strokeWidth":1.2,"clip":false},
    "encoding":{"x":{"field":"x","type":"quantitative","axis":{"orient":"bottom","values":[0,100,200,300,400,500,600,700,800,900,1000]}},
     "y":{"field":"y","type":"quantitative","axis":{"orient":"left","format":".1~f","values":[0,0.5,1,1.5,2,2.5,3,3.5,4,4.5]}}}}
  ]},
 {"width":353,"height":278,"title":{"text":"(b) Gaussian distribution"},
  "resolve":{"axis":{"x":"independent","y":"independent"}},
  "layer":[
   {"data":{"name":"bb"},"mark":{"type":"point","shape":"M-1,0L1,0M0,-1L0,1","color":"#0000ff","size":64,"strokeWidth":1.1,"clip":false},
    "encoding":{"x":{"field":"x","type":"quantitative","scale":{"domain":[0,1000],"nice":false},"axis":{"orient":"top","labels":false,"values":[0,100,200,300,400,500,600,700,800,900,1000]}},
     "y":{"field":"y","type":"quantitative","scale":{"domain":[0,9],"nice":false},"axis":{"orient":"right","labels":false,"values":[0,1,2,3,4,5,6,7,8,9]}}}},
   {"data":{"name":"br"},"mark":{"type":"point","shape":"M-1,0L1,0M0,-1L0,1M-0.7,-0.7L0.7,0.7M-0.7,0.7L0.7,-0.7","color":"#ff0000","size":56,"strokeWidth":1.2,"clip":false},
    "encoding":{"x":{"field":"x","type":"quantitative","axis":{"orient":"bottom","values":[0,100,200,300,400,500,600,700,800,900,1000]}},
     "y":{"field":"y","type":"quantitative","axis":{"orient":"left","values":[0,1,2,3,4,5,6,7,8,9]}}}}
  ]},
 {"width":353,"height":278,"title":{"text":"(c) Poisson distribution"},
  "resolve":{"axis":{"x":"independent","y":"independent"}},
  "layer":[
   {"data":{"name":"cb"},"mark":{"type":"point","shape":"M-1,0L1,0M0,-1L0,1","color":"#0000ff","size":64,"strokeWidth":1.1,"clip":false},
    "encoding":{"x":{"field":"x","type":"quantitative","scale":{"domain":[0,1000],"nice":false},"axis":{"orient":"top","labels":false,"values":[0,100,200,300,400,500,600,700,800,900,1000]}},
     "y":{"field":"y","type":"quantitative","scale":{"domain":[0,80],"nice":false},"axis":{"orient":"right","labels":false,"values":[0,10,20,30,40,50,60,70,80]}}}},
   {"data":{"name":"cr"},"mark":{"type":"point","shape":"M-1,0L1,0M0,-1L0,1M-0.7,-0.7L0.7,0.7M-0.7,0.7L0.7,-0.7","color":"#ff0000","size":56,"strokeWidth":1.2,"clip":false},
    "encoding":{"x":{"field":"x","type":"quantitative","axis":{"orient":"bottom","values":[0,100,200,300,400,500,600,700,800,900,1000]}},
     "y":{"field":"y","type":"quantitative","axis":{"orient":"left","values":[0,10,20,30,40,50,60,70,80]}}}}
  ]},
 {"width":353,"height":278,"title":{"text":"(d) Binomial distribution"},
  "resolve":{"axis":{"x":"independent","y":"independent"}},
  "layer":[
   {"data":{"name":"db"},"mark":{"type":"point","shape":"M-1,0L1,0M0,-1L0,1","color":"#0000ff","size":64,"strokeWidth":1.1,"clip":false},
    "encoding":{"x":{"field":"x","type":"quantitative","scale":{"domain":[0,1000],"nice":false},"axis":{"orient":"top","labels":false,"values":[0,100,200,300,400,500,600,700,800,900,1000]}},
     "y":{"field":"y","type":"quantitative","scale":{"domain":[0,350],"nice":false},"axis":{"orient":"right","labels":false,"values":[0,50,100,150,200,250,300,350]}}}},
   {"data":{"name":"dr"},"mark":{"type":"point","shape":"M-1,0L1,0M0,-1L0,1M-0.7,-0.7L0.7,0.7M-0.7,0.7L0.7,-0.7","color":"#ff0000","size":56,"strokeWidth":1.2,"clip":false},
    "encoding":{"x":{"field":"x","type":"quantitative","axis":{"orient":"bottom","values":[0,100,200,300,400,500,600,700,800,900,1000]}},
     "y":{"field":"y","type":"quantitative","axis":{"orient":"left","values":[0,50,100,150,200,250,300,350]}}}}
  ]}
]
}
